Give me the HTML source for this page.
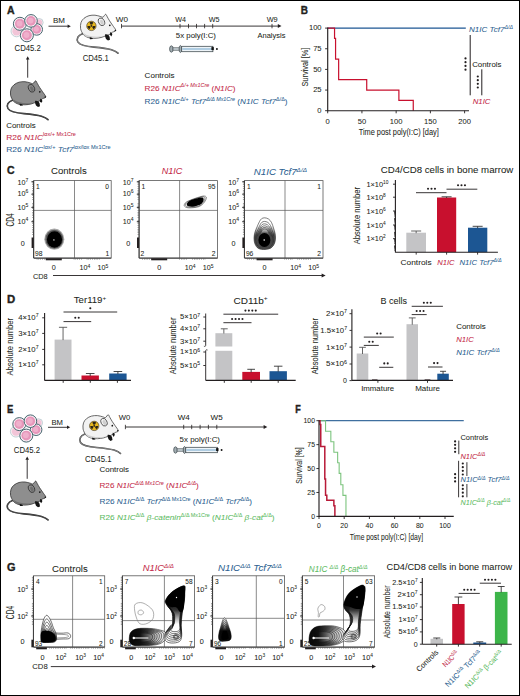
<!DOCTYPE html>
<html><head><meta charset="utf-8"><style>
html,body{margin:0;padding:0;background:#fff;}
body{width:520px;height:696px;overflow:hidden;position:relative;}
svg{position:absolute;left:0;top:0;display:block;}
svg text{font-family:"Liberation Sans", sans-serif;}
</style></head><body>
<svg width="520" height="696" viewBox="0 0 520 696">
<rect x="0" y="0" width="520" height="696" fill="#fff"/>
<text x="7" y="14.2" font-size="10" fill="#231f20" stroke="#231f20" stroke-width="0.35" font-weight="bold" textLength="7.6" lengthAdjust="spacingAndGlyphs">A</text>
<g transform="translate(0,0)">
<circle cx="39.2" cy="22.5" r="4.0" fill="#f8ebf0" stroke="#b5cbd0" stroke-width="0.8"/>
<circle cx="39.2" cy="22.5" r="2.96" fill="#f2c5d8"/>
<circle cx="16.6" cy="31.2" r="5.6" fill="#f8ebf0" stroke="#b5cbd0" stroke-width="0.8"/>
<circle cx="16.6" cy="31.2" r="4.144" fill="#f2c5d8"/>
<circle cx="36.7" cy="29.4" r="5.8" fill="#f9f3f6" stroke="#46636d" stroke-width="1.0"/>
<circle cx="36.7" cy="29.4" r="4.4079999999999995" fill="#e796ba"/>
<circle cx="36.300000000000004" cy="29.099999999999998" r="2.61" fill="#efb0cc"/>
<circle cx="19.9" cy="23.8" r="6.5" fill="#f9f3f6" stroke="#46636d" stroke-width="1.0"/>
<circle cx="19.9" cy="23.8" r="4.94" fill="#e796ba"/>
<circle cx="19.5" cy="23.5" r="2.9250000000000003" fill="#efb0cc"/>
<circle cx="31.0" cy="20.9" r="6.3" fill="#f9f3f6" stroke="#46636d" stroke-width="1.0"/>
<circle cx="31.0" cy="20.9" r="4.788" fill="#e796ba"/>
<circle cx="30.6" cy="20.599999999999998" r="2.835" fill="#efb0cc"/>
<circle cx="26.9" cy="35.3" r="6.5" fill="#f9f3f6" stroke="#46636d" stroke-width="1.0"/>
<circle cx="26.9" cy="35.3" r="4.94" fill="#e796ba"/>
<circle cx="26.5" cy="35.0" r="2.9250000000000003" fill="#efb0cc"/>
</g>
<text x="14.6" y="50.8" font-size="8.3" fill="#231f20" stroke="#231f20" stroke-width="0.05" textLength="26.2" lengthAdjust="spacingAndGlyphs">CD45.2</text>
<text x="53" y="23.2" font-size="7.2" fill="#231f20" stroke="#231f20" stroke-width="0.05" textLength="12" lengthAdjust="spacingAndGlyphs">BM</text>
<line x1="48.5" y1="26.2" x2="68.1" y2="26.2" stroke="#231f20" stroke-width="0.9" />
<path d="M70.8 26.2 L67.6 24.439999999999998 L67.6 27.96 Z" fill="#231f20" />
<g transform="translate(70,-66.5)">
<path d="M12.4 100.2 C8.2 101.8 6.0 105.2 8.0 108.6 C10.5 112 17 113 24 113.6 C31 114.2 37.5 115 41.5 116.2 C44.5 117.2 46.6 118.2 48.0 119.6" fill="none" stroke="#3a3a3a" stroke-width="1.6" stroke-linecap="round"/>
<path d="M12.4 100.2 C8.2 101.8 6.0 105.2 8.0 108.6 C10.5 112 17 113 24 113.6 C31 114.2 37.5 115 41.5 116.2 C44.5 117.2 46.6 118.2 48.0 119.6" fill="none" stroke="#cfcfcf" stroke-width="0.5" stroke-linecap="round"/>
<path d="M13.00 100.60 C12.23 99.37 10.93 97.13 10.60 95.20 C10.27 93.27 10.43 90.73 11.00 89.00 C11.57 87.27 12.67 85.93 14.00 84.80 C15.33 83.67 17.17 82.72 19.00 82.20 C20.83 81.68 23.13 81.58 25.00 81.70 C26.87 81.82 28.87 82.58 30.20 82.90 C31.53 83.22 32.10 83.95 33.00 83.60 C33.90 83.25 34.88 80.83 35.60 80.80 C36.32 80.77 36.63 82.30 37.30 83.40 C37.97 84.50 38.72 86.00 39.60 87.40 C40.48 88.80 41.60 90.33 42.60 91.80 C43.60 93.27 45.20 95.20 45.60 96.20 C46.00 97.20 45.50 97.40 45.00 97.80 C44.50 98.20 43.33 98.17 42.60 98.60 C41.87 99.03 41.37 99.90 40.60 100.40 C39.83 100.90 38.93 101.23 38.00 101.60 C37.07 101.97 36.17 102.20 35.00 102.60 C33.83 103.00 32.67 103.63 31.00 104.00 C29.33 104.37 27.00 104.75 25.00 104.80 C23.00 104.85 20.63 104.67 19.00 104.30 C17.37 103.93 16.20 103.22 15.20 102.60 C14.20 101.98 13.77 101.83 13.00 100.60 Z" fill="#f2f2f2" stroke="#3a3a3a" stroke-width="0.75" stroke-linejoin="round"/>
<path d="M13.5 99.5 C18 103 26 104 33 102.6 C29 104.6 19 105 15 102.6 Z" fill="#cfcfcf" />
<ellipse cx="31.5" cy="88.3" rx="2.9" ry="4.0" transform="rotate(-25 31.5 88.3)" fill="#f2f2f2" stroke="#3a3a3a" stroke-width="0.75"/>
<ellipse cx="31.9" cy="88.7" rx="1.6" ry="2.6" transform="rotate(-25 31.9 88.7)" fill="#cfcfcf"/>
<circle cx="39.8" cy="91.8" r="0.85" fill="#141414"/>
<circle cx="45.3" cy="96.9" r="0.75" fill="#141414"/>
<path d="M40.2 98.8 C41.4 98.6 42.4 99.6 42.2 101.2 L41.2 103.0 L40.0 101.2 Z" fill="#141414" />
<path d="M35.0 101.0 C36.8 100.4 39.0 101.4 39.6 103.6 L40.0 106.2 L38.0 107.0 L36.0 105.4 L35.2 103.2 Z" fill="#141414" />
<path d="M19.5 103.8 C21 103.6 22.4 104.4 23 105.6 L20 105.8 Z" fill="#141414" />
</g>
<circle cx="91.4" cy="25.9" r="4.7" fill="#e8b81e" stroke="#3a3020" stroke-width="0.6"/>
<path d="M90.70 24.68 L89.40 22.44 A3.995 3.995 0 0 1 93.40 22.44 L92.11 24.68 A1.41 1.41 0 0 0 90.70 24.68 Z" fill="#2a2418" />
<path d="M92.81 25.90 L95.40 25.90 A3.995 3.995 0 0 1 93.40 29.36 L92.11 27.12 A1.41 1.41 0 0 0 92.81 25.90 Z" fill="#2a2418" />
<path d="M90.70 27.12 L89.40 29.36 A3.995 3.995 0 0 1 87.41 25.90 L89.99 25.90 A1.41 1.41 0 0 0 90.70 27.12 Z" fill="#2a2418" />
<circle cx="91.4" cy="25.9" r="0.9400000000000001" fill="#2a2418"/>
<text x="82.7" y="60.6" font-size="8.3" fill="#231f20" stroke="#231f20" stroke-width="0.05" textLength="26" lengthAdjust="spacingAndGlyphs">CD45.1</text>
<line x1="27.7" y1="59.0" x2="27.7" y2="77.7" stroke="#231f20" stroke-width="0.9" />
<path d="M27.7 56.3 L25.939999999999998 59.5 L29.46 59.5 Z" fill="#231f20" />
<g transform="translate(0,0)">
<path d="M12.4 100.2 C8.2 101.8 6.0 105.2 8.0 108.6 C10.5 112 17 113 24 113.6 C31 114.2 37.5 115 41.5 116.2 C44.5 117.2 46.6 118.2 48.0 119.6" fill="none" stroke="#2a2a2a" stroke-width="1.6" stroke-linecap="round"/>
<path d="M12.4 100.2 C8.2 101.8 6.0 105.2 8.0 108.6 C10.5 112 17 113 24 113.6 C31 114.2 37.5 115 41.5 116.2 C44.5 117.2 46.6 118.2 48.0 119.6" fill="none" stroke="#6e6e6e" stroke-width="0.5" stroke-linecap="round"/>
<path d="M13.00 100.60 C12.23 99.37 10.93 97.13 10.60 95.20 C10.27 93.27 10.43 90.73 11.00 89.00 C11.57 87.27 12.67 85.93 14.00 84.80 C15.33 83.67 17.17 82.72 19.00 82.20 C20.83 81.68 23.13 81.58 25.00 81.70 C26.87 81.82 28.87 82.58 30.20 82.90 C31.53 83.22 32.10 83.95 33.00 83.60 C33.90 83.25 34.88 80.83 35.60 80.80 C36.32 80.77 36.63 82.30 37.30 83.40 C37.97 84.50 38.72 86.00 39.60 87.40 C40.48 88.80 41.60 90.33 42.60 91.80 C43.60 93.27 45.20 95.20 45.60 96.20 C46.00 97.20 45.50 97.40 45.00 97.80 C44.50 98.20 43.33 98.17 42.60 98.60 C41.87 99.03 41.37 99.90 40.60 100.40 C39.83 100.90 38.93 101.23 38.00 101.60 C37.07 101.97 36.17 102.20 35.00 102.60 C33.83 103.00 32.67 103.63 31.00 104.00 C29.33 104.37 27.00 104.75 25.00 104.80 C23.00 104.85 20.63 104.67 19.00 104.30 C17.37 103.93 16.20 103.22 15.20 102.60 C14.20 101.98 13.77 101.83 13.00 100.60 Z" fill="#8e8e8e" stroke="#2a2a2a" stroke-width="0.75" stroke-linejoin="round"/>
<path d="M13.5 99.5 C18 103 26 104 33 102.6 C29 104.6 19 105 15 102.6 Z" fill="#6e6e6e" />
<ellipse cx="31.5" cy="88.3" rx="2.9" ry="4.0" transform="rotate(-25 31.5 88.3)" fill="#8e8e8e" stroke="#2a2a2a" stroke-width="0.75"/>
<ellipse cx="31.9" cy="88.7" rx="1.6" ry="2.6" transform="rotate(-25 31.9 88.7)" fill="#6e6e6e"/>
<circle cx="39.8" cy="91.8" r="0.85" fill="#141414"/>
<circle cx="45.3" cy="96.9" r="0.75" fill="#141414"/>
<path d="M40.2 98.8 C41.4 98.6 42.4 99.6 42.2 101.2 L41.2 103.0 L40.0 101.2 Z" fill="#141414" />
<path d="M35.0 101.0 C36.8 100.4 39.0 101.4 39.6 103.6 L40.0 106.2 L38.0 107.0 L36.0 105.4 L35.2 103.2 Z" fill="#141414" />
<path d="M19.5 103.8 C21 103.6 22.4 104.4 23 105.6 L20 105.8 Z" fill="#141414" />
</g>
<line x1="121.5" y1="26.1" x2="278.5" y2="26.1" stroke="#231f20" stroke-width="0.9" />
<path d="M281.5 26.1 L277.8 24.1 L277.8 28.1 Z" fill="#231f20" />
<line x1="121.5" y1="23.9" x2="121.5" y2="28.3" stroke="#231f20" stroke-width="0.8" />
<line x1="180" y1="23.9" x2="180" y2="28.3" stroke="#231f20" stroke-width="0.8" />
<line x1="188.5" y1="23.9" x2="188.5" y2="28.3" stroke="#231f20" stroke-width="0.8" />
<line x1="196.5" y1="23.9" x2="196.5" y2="28.3" stroke="#231f20" stroke-width="0.8" />
<line x1="204.6" y1="23.9" x2="204.6" y2="28.3" stroke="#231f20" stroke-width="0.8" />
<line x1="212.7" y1="23.9" x2="212.7" y2="28.3" stroke="#231f20" stroke-width="0.8" />
<line x1="272" y1="23.9" x2="272" y2="28.3" stroke="#231f20" stroke-width="0.8" />
<text x="115.8" y="21.9" font-size="7.8" fill="#231f20" stroke="#231f20" stroke-width="0.05" textLength="12.2" lengthAdjust="spacingAndGlyphs">W0</text>
<text x="175.3" y="21.9" font-size="7.8" fill="#231f20" stroke="#231f20" stroke-width="0.05" textLength="10.7" lengthAdjust="spacingAndGlyphs">W4</text>
<text x="208.8" y="21.9" font-size="7.8" fill="#231f20" stroke="#231f20" stroke-width="0.05" textLength="10.8" lengthAdjust="spacingAndGlyphs">W5</text>
<text x="266.7" y="21.9" font-size="7.8" fill="#231f20" stroke="#231f20" stroke-width="0.05" textLength="11" lengthAdjust="spacingAndGlyphs">W9</text>
<text x="175.8" y="37.6" font-size="7.6" fill="#231f20" stroke="#231f20" stroke-width="0.05" textLength="40.2" lengthAdjust="spacingAndGlyphs">5x poly(I:C)</text>
<text x="257.5" y="37.5" font-size="7.6" fill="#231f20" stroke="#231f20" stroke-width="0.05" textLength="27.9" lengthAdjust="spacingAndGlyphs">Analysis</text>
<ellipse cx="171.4" cy="49" rx="1.8" ry="3.2" fill="#a3aeb3" stroke="#3c464b" stroke-width="0.7"/>
<rect x="173.0" y="47.8" width="6.6" height="2.4" fill="#c5cfd4" stroke="#3c464b" stroke-width="0.6"/>
<ellipse cx="180.4" cy="49" rx="1.3" ry="3.5" fill="#a3aeb3" stroke="#3c464b" stroke-width="0.7"/>
<rect x="181.7" y="46.3" width="31.200000000000006" height="5.4" fill="#eef4f8" stroke="#3c464b" stroke-width="0.75"/>
<rect x="182.2" y="48.1" width="30.200000000000006" height="1.8" fill="#a9c9df" />
<rect x="211.4" y="47.1" width="2.4" height="3.0" fill="#111" />
<circle cx="216.9" cy="49" r="0.95" fill="#111"/>
<text x="144.6" y="77.7" font-size="7.8" fill="#231f20" stroke="#231f20" stroke-width="0.05" textLength="30" lengthAdjust="spacingAndGlyphs">Controls</text>
<text x="144.6" y="90.5" font-size="8" fill="#c42a48" stroke="#c42a48" stroke-width="0.05" textLength="91" lengthAdjust="spacingAndGlyphs"><tspan dy="-0.00">R26 </tspan><tspan dy="-0.00" font-style="italic">N1IC</tspan><tspan dy="-3.04" font-size="5.28" font-style="italic">Δ/+ </tspan><tspan dy="0.00" font-size="5.28" font-style="italic">Mx1Cre</tspan><tspan dy="3.04"> (</tspan><tspan dy="-0.00" font-style="italic">N1IC</tspan><tspan dy="-0.00">)</tspan></text>
<text x="144.6" y="104" font-size="8" fill="#2d5f91" stroke="#2d5f91" stroke-width="0.05" textLength="142.9" lengthAdjust="spacingAndGlyphs"><tspan dy="-0.00">R26 </tspan><tspan dy="-0.00" font-style="italic">N1IC</tspan><tspan dy="-3.04" font-size="5.28">Δ/+</tspan><tspan dy="3.04"> </tspan><tspan dy="-0.00" font-style="italic">Tcf7</tspan><tspan dy="-3.04" font-size="5.28" font-style="italic">Δ/Δ Mx1Cre</tspan><tspan dy="3.04"> (</tspan><tspan dy="-0.00" font-style="italic">N1IC Tcf7</tspan><tspan dy="-3.04" font-size="5.28">Δ/Δ</tspan><tspan dy="3.04">)</tspan></text>
<text x="6.2" y="128" font-size="7.8" fill="#231f20" stroke="#231f20" stroke-width="0.05" textLength="29.5" lengthAdjust="spacingAndGlyphs">Controls</text>
<text x="6.2" y="139.5" font-size="8" fill="#c42a48" stroke="#c42a48" stroke-width="0.05" textLength="69.7" lengthAdjust="spacingAndGlyphs"><tspan dy="-0.00">R26 </tspan><tspan dy="-0.00" font-style="italic">N1IC</tspan><tspan dy="-3.04" font-size="5.28">lox/+ Mx1Cre</tspan></text>
<text x="6.2" y="152.2" font-size="8" fill="#2d5f91" stroke="#2d5f91" stroke-width="0.05" textLength="104.3" lengthAdjust="spacingAndGlyphs"><tspan dy="-0.00">R26 </tspan><tspan dy="-0.00" font-style="italic">N1IC</tspan><tspan dy="-3.04" font-size="5.28">lox/+</tspan><tspan dy="3.04"> </tspan><tspan dy="-0.00" font-style="italic">Tcf7</tspan><tspan dy="-3.04" font-size="5.28">lox/lox Mx1Cre</tspan></text>
<text x="300.8" y="14.4" font-size="10" fill="#231f20" stroke="#231f20" stroke-width="0.35" font-weight="bold" textLength="7.2" lengthAdjust="spacingAndGlyphs">B</text>
<line x1="327.7" y1="28.1" x2="465.8" y2="28.1" stroke="#1c5693" stroke-width="1.3" />
<path d="M327.7 28.1 L334.55 28.10 L334.55 38.43 L335.57 38.43 L335.57 59.08 L338.65 59.08 L338.65 79.72 L366.72 79.72 L366.72 90.05 L398.89 90.05 L398.89 100.38 L413.26 100.38 L413.26 110.70" fill="none" stroke="#c8102e" stroke-width="1.2" stroke-linejoin="miter"/>
<line x1="327.7" y1="27.6" x2="327.7" y2="111.2" stroke="#231f20" stroke-width="1.15" />
<line x1="325.09999999999997" y1="28.10000000000001" x2="327.7" y2="28.10000000000001" stroke="#231f20" stroke-width="0.9" />
<text x="321.6" y="30.300000000000008" font-size="7.6" fill="#231f20" stroke="#231f20" stroke-width="0.05" text-anchor="end">100</text>
<line x1="325.09999999999997" y1="48.75" x2="327.7" y2="48.75" stroke="#231f20" stroke-width="0.9" />
<text x="321.6" y="50.95" font-size="7.6" fill="#231f20" stroke="#231f20" stroke-width="0.05" text-anchor="end">75</text>
<line x1="325.09999999999997" y1="69.4" x2="327.7" y2="69.4" stroke="#231f20" stroke-width="0.9" />
<text x="321.6" y="71.60000000000001" font-size="7.6" fill="#231f20" stroke="#231f20" stroke-width="0.05" text-anchor="end">50</text>
<line x1="325.09999999999997" y1="90.05000000000001" x2="327.7" y2="90.05000000000001" stroke="#231f20" stroke-width="0.9" />
<text x="321.6" y="92.25000000000001" font-size="7.6" fill="#231f20" stroke="#231f20" stroke-width="0.05" text-anchor="end">25</text>
<line x1="325.09999999999997" y1="110.7" x2="327.7" y2="110.7" stroke="#231f20" stroke-width="0.9" />
<text x="321.6" y="112.9" font-size="7.6" fill="#231f20" stroke="#231f20" stroke-width="0.05" text-anchor="end">0</text>
<line x1="327.7" y1="110.7" x2="469" y2="110.7" stroke="#231f20" stroke-width="1.15" />
<line x1="327.7" y1="110.7" x2="327.7" y2="113.3" stroke="#231f20" stroke-width="0.9" />
<text x="327.7" y="123.6" font-size="7.6" fill="#231f20" stroke="#231f20" stroke-width="0.05" text-anchor="middle">0</text>
<line x1="361.925" y1="110.7" x2="361.925" y2="113.3" stroke="#231f20" stroke-width="0.9" />
<text x="361.925" y="123.6" font-size="7.6" fill="#231f20" stroke="#231f20" stroke-width="0.05" text-anchor="middle">50</text>
<line x1="396.15" y1="110.7" x2="396.15" y2="113.3" stroke="#231f20" stroke-width="0.9" />
<text x="396.15" y="123.6" font-size="7.6" fill="#231f20" stroke="#231f20" stroke-width="0.05" text-anchor="middle">100</text>
<line x1="430.375" y1="110.7" x2="430.375" y2="113.3" stroke="#231f20" stroke-width="0.9" />
<text x="430.375" y="123.6" font-size="7.6" fill="#231f20" stroke="#231f20" stroke-width="0.05" text-anchor="middle">150</text>
<line x1="464.6" y1="110.7" x2="464.6" y2="113.3" stroke="#231f20" stroke-width="0.9" />
<text x="464.6" y="123.6" font-size="7.6" fill="#231f20" stroke="#231f20" stroke-width="0.05" text-anchor="middle">200</text>
<text x="307.9" y="67.1" font-size="9.6" fill="#231f20" stroke="#231f20" stroke-width="0.05" text-anchor="middle" textLength="39" lengthAdjust="spacingAndGlyphs" transform="rotate(-90 307.9 67.1)">Survival [%]</text>
<text x="358.7" y="134.6" font-size="8.7" fill="#231f20" stroke="#231f20" stroke-width="0.05" textLength="80.1" lengthAdjust="spacingAndGlyphs">Time post poly(I:C) [day]</text>
<text x="469" y="32" font-size="7.6" fill="#2d5f91" stroke="#2d5f91" stroke-width="0.05" font-style="italic" textLength="44" lengthAdjust="spacingAndGlyphs"><tspan dy="-0.00">N1IC Tcf7</tspan><tspan dy="-2.89" font-size="5.02">Δ/Δ</tspan></text>
<line x1="470.2" y1="35" x2="470.2" y2="95.3" stroke="#231f20" stroke-width="1.0" />
<circle cx="465.5" cy="58.40" r="1.1" fill="#231f20"/>
<circle cx="465.5" cy="62.17" r="1.1" fill="#231f20"/>
<circle cx="465.5" cy="65.93" r="1.1" fill="#231f20"/>
<circle cx="465.5" cy="69.70" r="1.1" fill="#231f20"/>
<text x="472.2" y="67.3" font-size="7.8" fill="#231f20" stroke="#231f20" stroke-width="0.05" textLength="29.3" lengthAdjust="spacingAndGlyphs">Controls</text>
<line x1="481.8" y1="69.3" x2="481.8" y2="95.3" stroke="#231f20" stroke-width="1.0" />
<circle cx="477.8" cy="76.50" r="1.1" fill="#231f20"/>
<circle cx="477.8" cy="80.17" r="1.1" fill="#231f20"/>
<circle cx="477.8" cy="83.83" r="1.1" fill="#231f20"/>
<circle cx="477.8" cy="87.50" r="1.1" fill="#231f20"/>
<text x="472.7" y="104.2" font-size="7.8" fill="#c42a48" stroke="#c42a48" stroke-width="0.05" font-style="italic" textLength="17.8" lengthAdjust="spacingAndGlyphs">N1IC</text>
<text x="7" y="174.2" font-size="10" fill="#231f20" stroke="#231f20" stroke-width="0.35" font-weight="bold" textLength="7.6" lengthAdjust="spacingAndGlyphs">C</text>
<text x="51" y="174.4" font-size="9.2" fill="#231f20" stroke="#231f20" stroke-width="0.05" textLength="35.7" lengthAdjust="spacingAndGlyphs">Controls</text>
<text x="161.7" y="174.4" font-size="9.2" fill="#c42a48" stroke="#c42a48" stroke-width="0.05" font-style="italic" textLength="20.6" lengthAdjust="spacingAndGlyphs">N1IC</text>
<text x="253.8" y="175" font-size="9.2" fill="#2d5f91" stroke="#2d5f91" stroke-width="0.05" font-style="italic" textLength="53.2" lengthAdjust="spacingAndGlyphs"><tspan dy="-0.00">N1IC Tcf7</tspan><tspan dy="-3.50" font-size="6.07">Δ/Δ</tspan></text>
<rect x="33.8" y="180.6" width="77.4" height="77.4" fill="none" stroke="#575757" stroke-width="0.8"/>
<line x1="74.5" y1="180.6" x2="74.5" y2="258" stroke="#575757" stroke-width="0.7" />
<line x1="33.8" y1="210.4" x2="111.2" y2="210.4" stroke="#575757" stroke-width="0.7" />
<line x1="33.599999999999994" y1="180.6" x2="33.599999999999994" y2="258" stroke="#333" stroke-width="0.9" />
<line x1="33.8" y1="258.2" x2="111.2" y2="258.2" stroke="#333" stroke-width="0.9" />
<line x1="32.8" y1="181" x2="32.8" y2="200" stroke="#555" stroke-width="1.4" stroke-dasharray="0.5 1.3"/>
<line x1="32.8" y1="203" x2="32.8" y2="218" stroke="#555" stroke-width="1.4" stroke-dasharray="0.5 1.3"/>
<line x1="32.8" y1="220" x2="32.8" y2="236" stroke="#555" stroke-width="1.4" stroke-dasharray="0.5 1.3"/>
<line x1="36.8" y1="259.0" x2="47.8" y2="259.0" stroke="#555" stroke-width="1.4" stroke-dasharray="0.5 1.3"/>
<line x1="73.8" y1="259.0" x2="81.8" y2="259.0" stroke="#555" stroke-width="1.4" stroke-dasharray="0.5 1.3"/>
<line x1="86.8" y1="259.0" x2="99.8" y2="259.0" stroke="#555" stroke-width="1.4" stroke-dasharray="0.5 1.3"/>
<line x1="31.4" y1="181.8" x2="33.8" y2="181.8" stroke="#222" stroke-width="0.9" />
<line x1="31.4" y1="194.2" x2="33.8" y2="194.2" stroke="#222" stroke-width="0.9" />
<line x1="31.4" y1="207.4" x2="33.8" y2="207.4" stroke="#222" stroke-width="0.9" />
<line x1="31.4" y1="221.7" x2="33.8" y2="221.7" stroke="#222" stroke-width="0.9" />
<line x1="32.599999999999994" y1="237.5" x2="32.599999999999994" y2="248" stroke="#231f20" stroke-width="2.0" />
<line x1="45.8" y1="259.3" x2="61.8" y2="259.3" stroke="#231f20" stroke-width="2.0" />
<text x="53.8" y="270.4" font-size="7.2" fill="#231f20" stroke="#231f20" stroke-width="0.05" text-anchor="middle">0</text>
<text x="84.8" y="270.4" font-size="7.2" fill="#231f20" stroke="#231f20" stroke-width="0.05" text-anchor="middle"><tspan dy="-0.00">10</tspan><tspan dy="-2.80" font-size="5.00">4</tspan></text>
<text x="102.8" y="270.4" font-size="7.2" fill="#231f20" stroke="#231f20" stroke-width="0.05" text-anchor="middle"><tspan dy="-0.00">10</tspan><tspan dy="-2.80" font-size="5.00">5</tspan></text>
<text x="28.199999999999996" y="184.6" font-size="7.2" fill="#231f20" stroke="#231f20" stroke-width="0.05" text-anchor="end"><tspan dy="-0.00">10</tspan><tspan dy="-2.80" font-size="5.00">7</tspan></text>
<text x="28.199999999999996" y="196.1" font-size="7.2" fill="#231f20" stroke="#231f20" stroke-width="0.05" text-anchor="end"><tspan dy="-0.00">10</tspan><tspan dy="-2.80" font-size="5.00">6</tspan></text>
<text x="28.199999999999996" y="209.9" font-size="7.2" fill="#231f20" stroke="#231f20" stroke-width="0.05" text-anchor="end"><tspan dy="-0.00">10</tspan><tspan dy="-2.80" font-size="5.00">5</tspan></text>
<text x="28.199999999999996" y="224.1" font-size="7.2" fill="#231f20" stroke="#231f20" stroke-width="0.05" text-anchor="end"><tspan dy="-0.00">10</tspan><tspan dy="-2.80" font-size="5.00">4</tspan></text>
<text x="24.799999999999997" y="245.6" font-size="7.2" fill="#231f20" stroke="#231f20" stroke-width="0.05" text-anchor="end">0</text>
<text x="36.099999999999994" y="188.6" font-size="6.7" fill="#231f20" stroke="#231f20" stroke-width="0.05">1</text>
<text x="109.10000000000001" y="188.7" font-size="6.7" fill="#231f20" stroke="#231f20" stroke-width="0.05" text-anchor="end">0</text>
<text x="35.099999999999994" y="256.2" font-size="6.7" fill="#231f20" stroke="#231f20" stroke-width="0.05">98</text>
<text x="109.2" y="256.2" font-size="6.7" fill="#231f20" stroke="#231f20" stroke-width="0.05" text-anchor="end">1</text>
<rect x="139.2" y="180.6" width="78.30000000000001" height="77.4" fill="none" stroke="#575757" stroke-width="0.8"/>
<line x1="179.6" y1="180.6" x2="179.6" y2="258" stroke="#575757" stroke-width="0.7" />
<line x1="139.2" y1="210.4" x2="217.5" y2="210.4" stroke="#575757" stroke-width="0.7" />
<line x1="139.0" y1="180.6" x2="139.0" y2="258" stroke="#333" stroke-width="0.9" />
<line x1="139.2" y1="258.2" x2="217.5" y2="258.2" stroke="#333" stroke-width="0.9" />
<line x1="138.2" y1="181" x2="138.2" y2="200" stroke="#555" stroke-width="1.4" stroke-dasharray="0.5 1.3"/>
<line x1="138.2" y1="203" x2="138.2" y2="218" stroke="#555" stroke-width="1.4" stroke-dasharray="0.5 1.3"/>
<line x1="138.2" y1="220" x2="138.2" y2="236" stroke="#555" stroke-width="1.4" stroke-dasharray="0.5 1.3"/>
<line x1="142.2" y1="259.0" x2="153.2" y2="259.0" stroke="#555" stroke-width="1.4" stroke-dasharray="0.5 1.3"/>
<line x1="179.2" y1="259.0" x2="187.2" y2="259.0" stroke="#555" stroke-width="1.4" stroke-dasharray="0.5 1.3"/>
<line x1="192.2" y1="259.0" x2="205.2" y2="259.0" stroke="#555" stroke-width="1.4" stroke-dasharray="0.5 1.3"/>
<line x1="136.79999999999998" y1="181.8" x2="139.2" y2="181.8" stroke="#222" stroke-width="0.9" />
<line x1="136.79999999999998" y1="194.2" x2="139.2" y2="194.2" stroke="#222" stroke-width="0.9" />
<line x1="136.79999999999998" y1="207.4" x2="139.2" y2="207.4" stroke="#222" stroke-width="0.9" />
<line x1="136.79999999999998" y1="221.7" x2="139.2" y2="221.7" stroke="#222" stroke-width="0.9" />
<line x1="138.0" y1="237.5" x2="138.0" y2="248" stroke="#231f20" stroke-width="2.0" />
<line x1="151.2" y1="259.3" x2="167.2" y2="259.3" stroke="#231f20" stroke-width="2.0" />
<text x="159.2" y="270.4" font-size="7.2" fill="#231f20" stroke="#231f20" stroke-width="0.05" text-anchor="middle">0</text>
<text x="190.2" y="270.4" font-size="7.2" fill="#231f20" stroke="#231f20" stroke-width="0.05" text-anchor="middle"><tspan dy="-0.00">10</tspan><tspan dy="-2.80" font-size="5.00">4</tspan></text>
<text x="208.2" y="270.4" font-size="7.2" fill="#231f20" stroke="#231f20" stroke-width="0.05" text-anchor="middle"><tspan dy="-0.00">10</tspan><tspan dy="-2.80" font-size="5.00">5</tspan></text>
<text x="133.6" y="184.6" font-size="7.2" fill="#231f20" stroke="#231f20" stroke-width="0.05" text-anchor="end"><tspan dy="-0.00">10</tspan><tspan dy="-2.80" font-size="5.00">7</tspan></text>
<text x="133.6" y="196.1" font-size="7.2" fill="#231f20" stroke="#231f20" stroke-width="0.05" text-anchor="end"><tspan dy="-0.00">10</tspan><tspan dy="-2.80" font-size="5.00">6</tspan></text>
<text x="133.6" y="209.9" font-size="7.2" fill="#231f20" stroke="#231f20" stroke-width="0.05" text-anchor="end"><tspan dy="-0.00">10</tspan><tspan dy="-2.80" font-size="5.00">5</tspan></text>
<text x="133.6" y="224.1" font-size="7.2" fill="#231f20" stroke="#231f20" stroke-width="0.05" text-anchor="end"><tspan dy="-0.00">10</tspan><tspan dy="-2.80" font-size="5.00">4</tspan></text>
<text x="130.2" y="245.6" font-size="7.2" fill="#231f20" stroke="#231f20" stroke-width="0.05" text-anchor="end">0</text>
<text x="141.5" y="188.6" font-size="6.7" fill="#231f20" stroke="#231f20" stroke-width="0.05">1</text>
<text x="215.4" y="188.7" font-size="6.7" fill="#231f20" stroke="#231f20" stroke-width="0.05" text-anchor="end">95</text>
<text x="140.5" y="256.2" font-size="6.7" fill="#231f20" stroke="#231f20" stroke-width="0.05">2</text>
<text x="215.5" y="256.2" font-size="6.7" fill="#231f20" stroke="#231f20" stroke-width="0.05" text-anchor="end">2</text>
<rect x="244.6" y="180.6" width="78.4" height="77.4" fill="none" stroke="#575757" stroke-width="0.8"/>
<line x1="285" y1="180.6" x2="285" y2="258" stroke="#575757" stroke-width="0.7" />
<line x1="244.6" y1="210.4" x2="323" y2="210.4" stroke="#575757" stroke-width="0.7" />
<line x1="244.4" y1="180.6" x2="244.4" y2="258" stroke="#333" stroke-width="0.9" />
<line x1="244.6" y1="258.2" x2="323" y2="258.2" stroke="#333" stroke-width="0.9" />
<line x1="243.6" y1="181" x2="243.6" y2="200" stroke="#555" stroke-width="1.4" stroke-dasharray="0.5 1.3"/>
<line x1="243.6" y1="203" x2="243.6" y2="218" stroke="#555" stroke-width="1.4" stroke-dasharray="0.5 1.3"/>
<line x1="243.6" y1="220" x2="243.6" y2="236" stroke="#555" stroke-width="1.4" stroke-dasharray="0.5 1.3"/>
<line x1="247.6" y1="259.0" x2="258.6" y2="259.0" stroke="#555" stroke-width="1.4" stroke-dasharray="0.5 1.3"/>
<line x1="284.6" y1="259.0" x2="292.6" y2="259.0" stroke="#555" stroke-width="1.4" stroke-dasharray="0.5 1.3"/>
<line x1="297.6" y1="259.0" x2="310.6" y2="259.0" stroke="#555" stroke-width="1.4" stroke-dasharray="0.5 1.3"/>
<line x1="242.2" y1="181.8" x2="244.6" y2="181.8" stroke="#222" stroke-width="0.9" />
<line x1="242.2" y1="194.2" x2="244.6" y2="194.2" stroke="#222" stroke-width="0.9" />
<line x1="242.2" y1="207.4" x2="244.6" y2="207.4" stroke="#222" stroke-width="0.9" />
<line x1="242.2" y1="221.7" x2="244.6" y2="221.7" stroke="#222" stroke-width="0.9" />
<line x1="243.4" y1="237.5" x2="243.4" y2="248" stroke="#231f20" stroke-width="2.0" />
<line x1="256.6" y1="259.3" x2="272.6" y2="259.3" stroke="#231f20" stroke-width="2.0" />
<text x="264.6" y="270.4" font-size="7.2" fill="#231f20" stroke="#231f20" stroke-width="0.05" text-anchor="middle">0</text>
<text x="295.6" y="270.4" font-size="7.2" fill="#231f20" stroke="#231f20" stroke-width="0.05" text-anchor="middle"><tspan dy="-0.00">10</tspan><tspan dy="-2.80" font-size="5.00">4</tspan></text>
<text x="313.6" y="270.4" font-size="7.2" fill="#231f20" stroke="#231f20" stroke-width="0.05" text-anchor="middle"><tspan dy="-0.00">10</tspan><tspan dy="-2.80" font-size="5.00">5</tspan></text>
<text x="239.0" y="184.6" font-size="7.2" fill="#231f20" stroke="#231f20" stroke-width="0.05" text-anchor="end"><tspan dy="-0.00">10</tspan><tspan dy="-2.80" font-size="5.00">7</tspan></text>
<text x="239.0" y="196.1" font-size="7.2" fill="#231f20" stroke="#231f20" stroke-width="0.05" text-anchor="end"><tspan dy="-0.00">10</tspan><tspan dy="-2.80" font-size="5.00">6</tspan></text>
<text x="239.0" y="209.9" font-size="7.2" fill="#231f20" stroke="#231f20" stroke-width="0.05" text-anchor="end"><tspan dy="-0.00">10</tspan><tspan dy="-2.80" font-size="5.00">5</tspan></text>
<text x="239.0" y="224.1" font-size="7.2" fill="#231f20" stroke="#231f20" stroke-width="0.05" text-anchor="end"><tspan dy="-0.00">10</tspan><tspan dy="-2.80" font-size="5.00">4</tspan></text>
<text x="235.6" y="245.6" font-size="7.2" fill="#231f20" stroke="#231f20" stroke-width="0.05" text-anchor="end">0</text>
<text x="246.9" y="188.6" font-size="6.7" fill="#231f20" stroke="#231f20" stroke-width="0.05">1</text>
<text x="320.9" y="188.7" font-size="6.7" fill="#231f20" stroke="#231f20" stroke-width="0.05" text-anchor="end">1</text>
<text x="245.9" y="256.2" font-size="6.7" fill="#231f20" stroke="#231f20" stroke-width="0.05">96</text>
<text x="321.0" y="256.2" font-size="6.7" fill="#231f20" stroke="#231f20" stroke-width="0.05" text-anchor="end">2</text>
<text x="13.8" y="220" font-size="10" fill="#231f20" stroke="#231f20" stroke-width="0.05" text-anchor="middle" textLength="13.2" lengthAdjust="spacingAndGlyphs" transform="rotate(-90 13.8 220)">CD4</text>
<text x="33" y="278.6" font-size="7.8" fill="#231f20" stroke="#231f20" stroke-width="0.05" textLength="14.7" lengthAdjust="spacingAndGlyphs">CD8</text>
<line x1="53" y1="275.5" x2="322" y2="275.5" stroke="#231f20" stroke-width="0.9" />
<path d="M325.6 275.5 L321.6 273.5 L321.6 277.5 Z" fill="#231f20" />
<ellipse cx="54.3" cy="239.2" rx="10" ry="10.6" fill="#a8a8a8"/>
<ellipse cx="54.3" cy="239.3" rx="8.9" ry="9.5" fill="#5a5a5a"/>
<ellipse cx="54.5" cy="239.5" rx="7.6" ry="8.2" fill="#000"/>
<circle cx="53.9" cy="239.9" r="0.7" fill="#fff"/>
<path d="M184.20 205.60 C184.03 204.72 184.70 203.32 186.00 202.30 C187.30 201.28 189.75 200.38 192.00 199.50 C194.25 198.62 197.50 197.58 199.50 197.00 C201.50 196.42 202.87 195.98 204.00 196.00 C205.13 196.02 206.03 196.40 206.30 197.10 C206.57 197.80 206.15 199.08 205.60 200.20 C205.05 201.32 204.10 202.73 203.00 203.80 C201.90 204.87 200.67 205.95 199.00 206.60 C197.33 207.25 195.00 207.53 193.00 207.70 C191.00 207.87 188.47 207.95 187.00 207.60 C185.53 207.25 184.37 206.48 184.20 205.60 Z" fill="none" stroke="#2a2a2a" stroke-width="0.55" />
<path d="M185.50 205.17 C185.35 204.39 185.94 203.16 187.08 202.26 C188.22 201.37 190.38 200.58 192.36 199.80 C194.34 199.02 197.20 198.11 198.96 197.60 C200.72 197.09 201.92 196.71 202.92 196.72 C203.92 196.73 204.71 197.07 204.94 197.69 C205.18 198.30 204.81 199.43 204.33 200.42 C203.84 201.40 203.01 202.65 202.04 203.58 C201.07 204.52 199.99 205.48 198.52 206.05 C197.05 206.62 195.00 206.87 193.24 207.02 C191.48 207.16 189.25 207.24 187.96 206.93 C186.67 206.62 185.64 205.95 185.50 205.17 Z" fill="none" stroke="#2a2a2a" stroke-width="0.55" />
<path d="M186.80 204.00 C187.03 203.08 188.27 201.70 189.80 200.80 C191.33 199.90 193.92 199.13 196.00 198.60 C198.08 198.07 201.03 197.33 202.30 197.60 C203.57 197.87 203.85 199.08 203.60 200.20 C203.35 201.32 202.32 203.27 200.80 204.30 C199.28 205.33 196.57 206.07 194.50 206.40 C192.43 206.73 189.68 206.70 188.40 206.30 C187.12 205.90 186.57 204.92 186.80 204.00 Z" fill="#000" />
<defs><linearGradient id="gc3" gradientUnits="userSpaceOnUse" x1="0" y1="218" x2="0" y2="235"><stop offset="0" stop-color="#fff"/><stop offset="0.45" stop-color="#fff"/><stop offset="1" stop-color="#555"/></linearGradient></defs>
<path d="M264.50 217.80 C265.67 217.83 267.33 218.22 268.50 219.00 C269.67 219.78 270.67 221.00 271.50 222.50 C272.33 224.00 272.92 226.25 273.50 228.00 C274.08 229.75 274.67 231.33 275.00 233.00 C275.33 234.67 275.58 236.25 275.50 238.00 C275.42 239.75 275.25 241.83 274.50 243.50 C273.75 245.17 272.58 247.00 271.00 248.00 C269.42 249.00 267.08 249.42 265.00 249.50 C262.92 249.58 260.17 249.42 258.50 248.50 C256.83 247.58 255.75 245.75 255.00 244.00 C254.25 242.25 254.00 240.00 254.00 238.00 C254.00 236.00 254.50 233.83 255.00 232.00 C255.50 230.17 256.25 228.75 257.00 227.00 C257.75 225.25 258.75 222.87 259.50 221.50 C260.25 220.13 260.67 219.42 261.50 218.80 C262.33 218.18 263.33 217.77 264.50 217.80 Z" fill="url(#gc3)" />
<path d="M264.50 217.80 C265.67 217.83 267.33 218.22 268.50 219.00 C269.67 219.78 270.67 221.00 271.50 222.50 C272.33 224.00 272.92 226.25 273.50 228.00 C274.08 229.75 274.67 231.33 275.00 233.00 C275.33 234.67 275.58 236.25 275.50 238.00 C275.42 239.75 275.25 241.83 274.50 243.50 C273.75 245.17 272.58 247.00 271.00 248.00 C269.42 249.00 267.08 249.42 265.00 249.50 C262.92 249.58 260.17 249.42 258.50 248.50 C256.83 247.58 255.75 245.75 255.00 244.00 C254.25 242.25 254.00 240.00 254.00 238.00 C254.00 236.00 254.50 233.83 255.00 232.00 C255.50 230.17 256.25 228.75 257.00 227.00 C257.75 225.25 258.75 222.87 259.50 221.50 C260.25 220.13 260.67 219.42 261.50 218.80 C262.33 218.18 263.33 217.77 264.50 217.80 Z" fill="none" stroke="#1a1a1a" stroke-width="0.55" />
<path d="M264.47 221.43 C265.46 221.46 266.88 221.78 267.87 222.45 C268.86 223.12 269.71 224.15 270.42 225.43 C271.13 226.70 271.62 228.61 272.12 230.10 C272.62 231.59 273.11 232.93 273.39 234.35 C273.68 235.77 273.89 237.11 273.82 238.60 C273.75 240.09 273.61 241.86 272.97 243.28 C272.33 244.69 271.34 246.25 270.00 247.10 C268.65 247.95 266.67 248.30 264.89 248.38 C263.12 248.45 260.79 248.30 259.37 247.53 C257.95 246.75 257.03 245.19 256.39 243.70 C255.76 242.21 255.55 240.30 255.55 238.60 C255.55 236.90 255.97 235.06 256.39 233.50 C256.82 231.94 257.46 230.74 258.10 229.25 C258.73 227.76 259.58 225.74 260.22 224.57 C260.86 223.41 261.21 222.80 261.92 222.28 C262.63 221.76 263.48 221.40 264.47 221.43 Z" fill="none" stroke="#1a1a1a" stroke-width="0.55" />
<path d="M264.45 223.85 C265.32 223.88 266.57 224.16 267.45 224.75 C268.32 225.34 269.07 226.25 269.70 227.38 C270.32 228.50 270.76 230.19 271.20 231.50 C271.64 232.81 272.07 234.00 272.32 235.25 C272.57 236.50 272.76 237.69 272.70 239.00 C272.64 240.31 272.51 241.88 271.95 243.12 C271.39 244.38 270.51 245.75 269.32 246.50 C268.14 247.25 266.39 247.56 264.82 247.62 C263.26 247.69 261.20 247.56 259.95 246.88 C258.70 246.19 257.89 244.81 257.32 243.50 C256.76 242.19 256.57 240.50 256.57 239.00 C256.57 237.50 256.95 235.88 257.32 234.50 C257.70 233.12 258.26 232.06 258.82 230.75 C259.39 229.44 260.14 227.65 260.70 226.62 C261.26 225.60 261.57 225.06 262.20 224.60 C262.82 224.14 263.57 223.83 264.45 223.85 Z" fill="none" stroke="#1a1a1a" stroke-width="0.55" />
<path d="M264.43 225.79 C265.22 225.81 266.33 226.07 267.11 226.59 C267.90 227.11 268.57 227.93 269.12 228.94 C269.68 229.94 270.07 231.45 270.46 232.62 C270.85 233.79 271.25 234.85 271.47 235.97 C271.69 237.09 271.86 238.15 271.80 239.32 C271.75 240.49 271.64 241.89 271.13 243.00 C270.63 244.12 269.85 245.35 268.79 246.02 C267.73 246.69 266.16 246.97 264.77 247.03 C263.37 247.08 261.53 246.97 260.41 246.35 C259.30 245.74 258.57 244.51 258.07 243.34 C257.57 242.17 257.40 240.66 257.40 239.32 C257.40 237.98 257.73 236.53 258.07 235.30 C258.40 234.07 258.91 233.12 259.41 231.95 C259.91 230.78 260.58 229.18 261.08 228.26 C261.59 227.35 261.87 226.87 262.42 226.46 C262.98 226.04 263.65 225.76 264.43 225.79 Z" fill="none" stroke="#1a1a1a" stroke-width="0.55" />
<path d="M264.42 227.48 C265.12 227.50 266.12 227.73 266.82 228.20 C267.52 228.67 268.12 229.40 268.62 230.30 C269.12 231.20 269.47 232.55 269.82 233.60 C270.17 234.65 270.52 235.60 270.72 236.60 C270.92 237.60 271.07 238.55 271.02 239.60 C270.97 240.65 270.87 241.90 270.42 242.90 C269.97 243.90 269.27 245.00 268.32 245.60 C267.37 246.20 265.97 246.45 264.72 246.50 C263.47 246.55 261.82 246.45 260.82 245.90 C259.82 245.35 259.17 244.25 258.72 243.20 C258.27 242.15 258.12 240.80 258.12 239.60 C258.12 238.40 258.42 237.10 258.72 236.00 C259.02 234.90 259.47 234.05 259.92 233.00 C260.37 231.95 260.97 230.52 261.42 229.70 C261.87 228.88 262.12 228.45 262.62 228.08 C263.12 227.71 263.72 227.46 264.42 227.48 Z" fill="none" stroke="#1a1a1a" stroke-width="0.55" />
<path d="M264.41 228.93 C265.04 228.95 265.94 229.16 266.57 229.58 C267.20 230.00 267.74 230.66 268.19 231.47 C268.64 232.28 268.95 233.50 269.27 234.44 C269.58 235.38 269.90 236.24 270.08 237.14 C270.26 238.04 270.39 238.90 270.35 239.84 C270.30 240.78 270.21 241.91 269.81 242.81 C269.40 243.71 268.77 244.70 267.92 245.24 C267.06 245.78 265.80 246.01 264.68 246.05 C263.55 246.09 262.07 246.00 261.17 245.51 C260.27 245.01 259.68 244.03 259.28 243.08 C258.87 242.14 258.74 240.92 258.74 239.84 C258.74 238.76 259.01 237.59 259.28 236.60 C259.55 235.61 259.95 234.84 260.36 233.90 C260.76 232.96 261.30 231.67 261.71 230.93 C262.11 230.19 262.34 229.81 262.79 229.47 C263.24 229.14 263.78 228.91 264.41 228.93 Z" fill="none" stroke="#1a1a1a" stroke-width="0.55" />
<ellipse cx="264.5" cy="240.3" rx="8.2" ry="8.6" fill="#555" opacity="0.55"/>
<ellipse cx="264.4" cy="240.0" rx="6.0" ry="7.0" fill="#000"/>
<circle cx="264.2" cy="240" r="0.8" fill="#fff"/>
<text x="380.7" y="172.5" font-size="8.6" fill="#231f20" stroke="#231f20" stroke-width="0.05" textLength="132.6" lengthAdjust="spacingAndGlyphs">CD4/CD8 cells in bone marrow</text>
<line x1="395.4" y1="180" x2="395.4" y2="252.4" stroke="#231f20" stroke-width="1.1" />
<line x1="393.0" y1="184.2" x2="395.4" y2="184.2" stroke="#231f20" stroke-width="0.9" />
<line x1="393.0" y1="197.2" x2="395.4" y2="197.2" stroke="#231f20" stroke-width="0.9" />
<line x1="393.0" y1="211.0" x2="395.4" y2="211.0" stroke="#231f20" stroke-width="0.9" />
<line x1="393.0" y1="225.0" x2="395.4" y2="225.0" stroke="#231f20" stroke-width="0.9" />
<line x1="393.0" y1="238.7" x2="395.4" y2="238.7" stroke="#231f20" stroke-width="0.9" />
<text x="366.4" y="186.89999999999998" font-size="7.4" fill="#231f20" stroke="#231f20" stroke-width="0.05"><tspan dy="-0.00">1×10</tspan><tspan dy="-3.20" font-size="4.80">10</tspan></text>
<text x="366.4" y="199.89999999999998" font-size="7.4" fill="#231f20" stroke="#231f20" stroke-width="0.05"><tspan dy="-0.00">1×10</tspan><tspan dy="-3.20" font-size="4.80">8</tspan></text>
<text x="366.4" y="213.7" font-size="7.4" fill="#231f20" stroke="#231f20" stroke-width="0.05"><tspan dy="-0.00">1×10</tspan><tspan dy="-3.20" font-size="4.80">6</tspan></text>
<text x="366.4" y="227.7" font-size="7.4" fill="#231f20" stroke="#231f20" stroke-width="0.05"><tspan dy="-0.00">1×10</tspan><tspan dy="-3.20" font-size="4.80">4</tspan></text>
<text x="366.4" y="241.39999999999998" font-size="7.4" fill="#231f20" stroke="#231f20" stroke-width="0.05"><tspan dy="-0.00">1×10</tspan><tspan dy="-3.20" font-size="4.80">2</tspan></text>
<line x1="394.0" y1="250.34" x2="395.4" y2="250.34" stroke="#231f20" stroke-width="0.5" />
<line x1="394.0" y1="249.13" x2="395.4" y2="249.13" stroke="#231f20" stroke-width="0.5" />
<line x1="394.0" y1="248.28" x2="395.4" y2="248.28" stroke="#231f20" stroke-width="0.5" />
<line x1="394.0" y1="247.61" x2="395.4" y2="247.61" stroke="#231f20" stroke-width="0.5" />
<line x1="394.0" y1="247.07" x2="395.4" y2="247.07" stroke="#231f20" stroke-width="0.5" />
<line x1="394.0" y1="246.61" x2="395.4" y2="246.61" stroke="#231f20" stroke-width="0.5" />
<line x1="394.0" y1="246.21" x2="395.4" y2="246.21" stroke="#231f20" stroke-width="0.5" />
<line x1="394.0" y1="245.86" x2="395.4" y2="245.86" stroke="#231f20" stroke-width="0.5" />
<line x1="394.0" y1="243.49" x2="395.4" y2="243.49" stroke="#231f20" stroke-width="0.5" />
<line x1="394.0" y1="242.28" x2="395.4" y2="242.28" stroke="#231f20" stroke-width="0.5" />
<line x1="394.0" y1="241.43" x2="395.4" y2="241.43" stroke="#231f20" stroke-width="0.5" />
<line x1="394.0" y1="240.76" x2="395.4" y2="240.76" stroke="#231f20" stroke-width="0.5" />
<line x1="394.0" y1="240.22" x2="395.4" y2="240.22" stroke="#231f20" stroke-width="0.5" />
<line x1="394.0" y1="239.76" x2="395.4" y2="239.76" stroke="#231f20" stroke-width="0.5" />
<line x1="394.0" y1="239.36" x2="395.4" y2="239.36" stroke="#231f20" stroke-width="0.5" />
<line x1="394.0" y1="239.01" x2="395.4" y2="239.01" stroke="#231f20" stroke-width="0.5" />
<line x1="394.0" y1="236.64" x2="395.4" y2="236.64" stroke="#231f20" stroke-width="0.5" />
<line x1="394.0" y1="235.43" x2="395.4" y2="235.43" stroke="#231f20" stroke-width="0.5" />
<line x1="394.0" y1="234.58" x2="395.4" y2="234.58" stroke="#231f20" stroke-width="0.5" />
<line x1="394.0" y1="233.91" x2="395.4" y2="233.91" stroke="#231f20" stroke-width="0.5" />
<line x1="394.0" y1="233.37" x2="395.4" y2="233.37" stroke="#231f20" stroke-width="0.5" />
<line x1="394.0" y1="232.91" x2="395.4" y2="232.91" stroke="#231f20" stroke-width="0.5" />
<line x1="394.0" y1="232.51" x2="395.4" y2="232.51" stroke="#231f20" stroke-width="0.5" />
<line x1="394.0" y1="232.16" x2="395.4" y2="232.16" stroke="#231f20" stroke-width="0.5" />
<line x1="394.0" y1="229.79" x2="395.4" y2="229.79" stroke="#231f20" stroke-width="0.5" />
<line x1="394.0" y1="228.58" x2="395.4" y2="228.58" stroke="#231f20" stroke-width="0.5" />
<line x1="394.0" y1="227.73" x2="395.4" y2="227.73" stroke="#231f20" stroke-width="0.5" />
<line x1="394.0" y1="227.06" x2="395.4" y2="227.06" stroke="#231f20" stroke-width="0.5" />
<line x1="394.0" y1="226.52" x2="395.4" y2="226.52" stroke="#231f20" stroke-width="0.5" />
<line x1="394.0" y1="226.06" x2="395.4" y2="226.06" stroke="#231f20" stroke-width="0.5" />
<line x1="394.0" y1="225.66" x2="395.4" y2="225.66" stroke="#231f20" stroke-width="0.5" />
<line x1="394.0" y1="225.31" x2="395.4" y2="225.31" stroke="#231f20" stroke-width="0.5" />
<line x1="394.0" y1="222.94" x2="395.4" y2="222.94" stroke="#231f20" stroke-width="0.5" />
<line x1="394.0" y1="221.73" x2="395.4" y2="221.73" stroke="#231f20" stroke-width="0.5" />
<line x1="394.0" y1="220.88" x2="395.4" y2="220.88" stroke="#231f20" stroke-width="0.5" />
<line x1="394.0" y1="220.21" x2="395.4" y2="220.21" stroke="#231f20" stroke-width="0.5" />
<line x1="394.0" y1="219.67" x2="395.4" y2="219.67" stroke="#231f20" stroke-width="0.5" />
<line x1="394.0" y1="219.21" x2="395.4" y2="219.21" stroke="#231f20" stroke-width="0.5" />
<line x1="394.0" y1="218.81" x2="395.4" y2="218.81" stroke="#231f20" stroke-width="0.5" />
<line x1="394.0" y1="218.46" x2="395.4" y2="218.46" stroke="#231f20" stroke-width="0.5" />
<line x1="394.0" y1="216.09" x2="395.4" y2="216.09" stroke="#231f20" stroke-width="0.5" />
<line x1="394.0" y1="214.88" x2="395.4" y2="214.88" stroke="#231f20" stroke-width="0.5" />
<line x1="394.0" y1="214.03" x2="395.4" y2="214.03" stroke="#231f20" stroke-width="0.5" />
<line x1="394.0" y1="213.36" x2="395.4" y2="213.36" stroke="#231f20" stroke-width="0.5" />
<line x1="394.0" y1="212.82" x2="395.4" y2="212.82" stroke="#231f20" stroke-width="0.5" />
<line x1="394.0" y1="212.36" x2="395.4" y2="212.36" stroke="#231f20" stroke-width="0.5" />
<line x1="394.0" y1="211.96" x2="395.4" y2="211.96" stroke="#231f20" stroke-width="0.5" />
<line x1="394.0" y1="211.61" x2="395.4" y2="211.61" stroke="#231f20" stroke-width="0.5" />
<text x="360" y="215.7" font-size="9.4" fill="#231f20" stroke="#231f20" stroke-width="0.05" text-anchor="middle" textLength="57.3" lengthAdjust="spacingAndGlyphs" transform="rotate(-90 360 215.7)">Absolute number</text>
<rect x="406.3" y="232.7" width="19.69999999999999" height="19.5" fill="#c4c4c6" />
<line x1="416.15" y1="231.0" x2="416.15" y2="233.2" stroke="#555" stroke-width="0.9" />
<line x1="411.15" y1="231.0" x2="421.15" y2="231.0" stroke="#555" stroke-width="0.9" />
<rect x="437" y="197.5" width="19.19999999999999" height="54.69999999999999" fill="#c8102e" />
<line x1="446.6" y1="196.8" x2="446.6" y2="198.0" stroke="#333" stroke-width="0.9" />
<line x1="441.6" y1="196.8" x2="451.6" y2="196.8" stroke="#333" stroke-width="0.9" />
<rect x="468" y="227.7" width="19.30000000000001" height="24.5" fill="#1c5693" />
<line x1="477.65" y1="226.3" x2="477.65" y2="228.2" stroke="#333" stroke-width="0.9" />
<line x1="472.65" y1="226.3" x2="482.65" y2="226.3" stroke="#333" stroke-width="0.9" />
<line x1="395.4" y1="252.2" x2="497.9" y2="252.2" stroke="#231f20" stroke-width="1.1" />
<line x1="416.2" y1="252.2" x2="416.2" y2="254.6" stroke="#231f20" stroke-width="0.9" />
<line x1="446.6" y1="252.2" x2="446.6" y2="254.6" stroke="#231f20" stroke-width="0.9" />
<line x1="477.6" y1="252.2" x2="477.6" y2="254.6" stroke="#231f20" stroke-width="0.9" />
<line x1="416" y1="192.7" x2="446.5" y2="192.7" stroke="#231f20" stroke-width="0.9" />
<circle cx="428.05" cy="188.8" r="1.05" fill="#231f20"/>
<circle cx="431.50" cy="188.8" r="1.05" fill="#231f20"/>
<circle cx="434.95" cy="188.8" r="1.05" fill="#231f20"/>
<line x1="446.5" y1="189.2" x2="477.3" y2="189.2" stroke="#231f20" stroke-width="0.9" />
<circle cx="458.05" cy="185.3" r="1.05" fill="#231f20"/>
<circle cx="461.50" cy="185.3" r="1.05" fill="#231f20"/>
<circle cx="464.95" cy="185.3" r="1.05" fill="#231f20"/>
<text x="400.6" y="264.8" font-size="8" fill="#231f20" stroke="#231f20" stroke-width="0.05" textLength="31" lengthAdjust="spacingAndGlyphs">Controls</text>
<text x="437.3" y="264.8" font-size="8" fill="#c42a48" stroke="#c42a48" stroke-width="0.05" font-style="italic" textLength="17.3" lengthAdjust="spacingAndGlyphs">N1IC</text>
<text x="459.4" y="264.8" font-size="8" fill="#2d5f91" stroke="#2d5f91" stroke-width="0.05" font-style="italic" textLength="42.3" lengthAdjust="spacingAndGlyphs"><tspan dy="-0.00">N1IC Tcf7</tspan><tspan dy="-3.04" font-size="5.28">Δ/Δ</tspan></text>
<text x="6.9" y="303" font-size="10" fill="#231f20" stroke="#231f20" stroke-width="0.35" font-weight="bold" textLength="8.2" lengthAdjust="spacingAndGlyphs">D</text>
<text x="73.8" y="303.2" font-size="8.2" fill="#231f20" stroke="#231f20" stroke-width="0.05" textLength="32.4" lengthAdjust="spacingAndGlyphs"><tspan dy="-0.00">Ter119</tspan><tspan dy="-3.12" font-size="5.41">+</tspan></text>
<line x1="44.6" y1="313" x2="44.6" y2="380.4" stroke="#231f20" stroke-width="1.1" />
<line x1="42.2" y1="317.8" x2="44.6" y2="317.8" stroke="#231f20" stroke-width="0.9" />
<line x1="42.2" y1="333.4" x2="44.6" y2="333.4" stroke="#231f20" stroke-width="0.9" />
<line x1="42.2" y1="349.4" x2="44.6" y2="349.4" stroke="#231f20" stroke-width="0.9" />
<line x1="42.2" y1="364.8" x2="44.6" y2="364.8" stroke="#231f20" stroke-width="0.9" />
<text x="38.5" y="320.2" font-size="7.0" fill="#231f20" stroke="#231f20" stroke-width="0.05" text-anchor="end" textLength="20.3" lengthAdjust="spacingAndGlyphs"><tspan dy="-0.00">4×10</tspan><tspan dy="-2.90" font-size="4.60">7</tspan></text>
<text x="38.5" y="335.79999999999995" font-size="7.0" fill="#231f20" stroke="#231f20" stroke-width="0.05" text-anchor="end" textLength="20.3" lengthAdjust="spacingAndGlyphs"><tspan dy="-0.00">3×10</tspan><tspan dy="-2.90" font-size="4.60">7</tspan></text>
<text x="38.5" y="351.79999999999995" font-size="7.0" fill="#231f20" stroke="#231f20" stroke-width="0.05" text-anchor="end" textLength="20.3" lengthAdjust="spacingAndGlyphs"><tspan dy="-0.00">2×10</tspan><tspan dy="-2.90" font-size="4.60">7</tspan></text>
<text x="38.5" y="367.2" font-size="7.0" fill="#231f20" stroke="#231f20" stroke-width="0.05" text-anchor="end" textLength="20.3" lengthAdjust="spacingAndGlyphs"><tspan dy="-0.00">1×10</tspan><tspan dy="-2.90" font-size="4.60">7</tspan></text>
<text x="13.2" y="346.8" font-size="9.4" fill="#231f20" stroke="#231f20" stroke-width="0.05" text-anchor="middle" textLength="57.6" lengthAdjust="spacingAndGlyphs" transform="rotate(-90 13.2 346.8)">Absolute number</text>
<rect x="54.6" y="339.6" width="16.9" height="40.799999999999955" fill="#c4c4c6" />
<line x1="63.05" y1="327.3" x2="63.05" y2="340.1" stroke="#555" stroke-width="0.9" />
<line x1="58.949999999999996" y1="327.3" x2="67.14999999999999" y2="327.3" stroke="#555" stroke-width="0.9" />
<rect x="81.5" y="375.5" width="17.400000000000006" height="4.899999999999977" fill="#c8102e" />
<line x1="90.2" y1="373.5" x2="90.2" y2="376.0" stroke="#333" stroke-width="0.9" />
<line x1="85.9" y1="373.5" x2="94.5" y2="373.5" stroke="#333" stroke-width="0.9" />
<rect x="109.2" y="373.5" width="17.39999999999999" height="6.899999999999977" fill="#1c5693" />
<line x1="117.9" y1="371.5" x2="117.9" y2="374.0" stroke="#333" stroke-width="0.9" />
<line x1="113.60000000000001" y1="371.5" x2="122.2" y2="371.5" stroke="#333" stroke-width="0.9" />
<line x1="44.6" y1="380.4" x2="131" y2="380.4" stroke="#231f20" stroke-width="1.1" />
<line x1="63.2" y1="380.4" x2="63.2" y2="382.79999999999995" stroke="#231f20" stroke-width="0.9" />
<line x1="90.3" y1="380.4" x2="90.3" y2="382.79999999999995" stroke="#231f20" stroke-width="0.9" />
<line x1="117.4" y1="380.4" x2="117.4" y2="382.79999999999995" stroke="#231f20" stroke-width="0.9" />
<line x1="63.5" y1="312" x2="117.2" y2="312" stroke="#231f20" stroke-width="0.9" />
<circle cx="90.30" cy="308.2" r="1.05" fill="#231f20"/>
<line x1="63.5" y1="321.6" x2="91.2" y2="321.6" stroke="#231f20" stroke-width="0.9" />
<circle cx="75.28" cy="317.8" r="1.05" fill="#231f20"/>
<circle cx="78.73" cy="317.8" r="1.05" fill="#231f20"/>
<text x="233.5" y="303.5" font-size="8.2" fill="#231f20" stroke="#231f20" stroke-width="0.05" textLength="34.2" lengthAdjust="spacingAndGlyphs"><tspan dy="-0.00">CD11b</tspan><tspan dy="-3.12" font-size="5.41">+</tspan></text>
<line x1="205.7" y1="313.5" x2="205.7" y2="345.4" stroke="#231f20" stroke-width="0.9" />
<line x1="205.7" y1="350.8" x2="205.7" y2="380.4" stroke="#231f20" stroke-width="0.9" />
<path d="M205.7 345.4 C205.7 346.5 204.7 346.6 203.9 346.2" fill="none" stroke="#231f20" stroke-width="0.8" />
<path d="M205.7 350.8 C205.7 349.7 206.7 349.6 207.5 350" fill="none" stroke="#231f20" stroke-width="0.8" />
<line x1="203.3" y1="317" x2="205.7" y2="317" stroke="#231f20" stroke-width="0.9" />
<line x1="203.3" y1="328.8" x2="205.7" y2="328.8" stroke="#231f20" stroke-width="0.9" />
<line x1="203.3" y1="341.2" x2="205.7" y2="341.2" stroke="#231f20" stroke-width="0.9" />
<line x1="203.3" y1="352" x2="205.7" y2="352" stroke="#231f20" stroke-width="0.9" />
<line x1="203.3" y1="365.5" x2="205.7" y2="365.5" stroke="#231f20" stroke-width="0.9" />
<text x="200.0" y="319.4" font-size="7.0" fill="#231f20" stroke="#231f20" stroke-width="0.05" text-anchor="end" textLength="20" lengthAdjust="spacingAndGlyphs"><tspan dy="-0.00">5×10</tspan><tspan dy="-2.90" font-size="4.60">7</tspan></text>
<text x="200.0" y="331.2" font-size="7.0" fill="#231f20" stroke="#231f20" stroke-width="0.05" text-anchor="end" textLength="20" lengthAdjust="spacingAndGlyphs"><tspan dy="-0.00">4×10</tspan><tspan dy="-2.90" font-size="4.60">7</tspan></text>
<text x="200.0" y="343.59999999999997" font-size="7.0" fill="#231f20" stroke="#231f20" stroke-width="0.05" text-anchor="end" textLength="20" lengthAdjust="spacingAndGlyphs"><tspan dy="-0.00">3×10</tspan><tspan dy="-2.90" font-size="4.60">7</tspan></text>
<text x="200.0" y="354.4" font-size="7.0" fill="#231f20" stroke="#231f20" stroke-width="0.05" text-anchor="end" textLength="20" lengthAdjust="spacingAndGlyphs"><tspan dy="-0.00">1×10</tspan><tspan dy="-2.90" font-size="4.60">6</tspan></text>
<text x="200.0" y="367.9" font-size="7.0" fill="#231f20" stroke="#231f20" stroke-width="0.05" text-anchor="end" textLength="20" lengthAdjust="spacingAndGlyphs"><tspan dy="-0.00">5×10</tspan><tspan dy="-2.90" font-size="4.60">5</tspan></text>
<text x="175.6" y="345.9" font-size="9.4" fill="#231f20" stroke="#231f20" stroke-width="0.05" text-anchor="middle" textLength="56.8" lengthAdjust="spacingAndGlyphs" transform="rotate(-90 175.6 345.9)">Absolute number</text>
<rect x="215.4" y="333.2" width="16.9" height="13.3" fill="#c4c4c6" />
<rect x="215.4" y="350.8" width="16.9" height="29.6" fill="#c4c4c6" />
<line x1="223.85" y1="328.8" x2="223.85" y2="333.5" stroke="#555" stroke-width="0.9" />
<line x1="220.8" y1="328.8" x2="227.7" y2="328.8" stroke="#555" stroke-width="0.9" />
<rect x="242.3" y="371.9" width="17.69999999999999" height="8.5" fill="#c8102e" />
<line x1="251.15" y1="369.3" x2="251.15" y2="372.4" stroke="#333" stroke-width="0.9" />
<line x1="247.3" y1="369.3" x2="255.0" y2="369.3" stroke="#333" stroke-width="0.9" />
<rect x="269.5" y="371.2" width="17.399999999999977" height="9.199999999999989" fill="#1c5693" />
<line x1="278.2" y1="366.2" x2="278.2" y2="371.7" stroke="#333" stroke-width="0.9" />
<line x1="273.95" y1="366.2" x2="282.45" y2="366.2" stroke="#333" stroke-width="0.9" />
<line x1="205.7" y1="380.4" x2="295.7" y2="380.4" stroke="#231f20" stroke-width="1.1" />
<line x1="224.3" y1="380.4" x2="224.3" y2="382.79999999999995" stroke="#231f20" stroke-width="0.9" />
<line x1="251.2" y1="380.4" x2="251.2" y2="382.79999999999995" stroke="#231f20" stroke-width="0.9" />
<line x1="278.2" y1="380.4" x2="278.2" y2="382.79999999999995" stroke="#231f20" stroke-width="0.9" />
<line x1="223.4" y1="314.2" x2="278.2" y2="314.2" stroke="#231f20" stroke-width="0.9" />
<circle cx="245.42" cy="310.6" r="1.05" fill="#231f20"/>
<circle cx="248.87" cy="310.6" r="1.05" fill="#231f20"/>
<circle cx="252.32" cy="310.6" r="1.05" fill="#231f20"/>
<circle cx="255.77" cy="310.6" r="1.05" fill="#231f20"/>
<line x1="223.4" y1="322.7" x2="251.5" y2="322.7" stroke="#231f20" stroke-width="0.9" />
<circle cx="232.12" cy="319.0" r="1.05" fill="#231f20"/>
<circle cx="235.57" cy="319.0" r="1.05" fill="#231f20"/>
<circle cx="239.03" cy="319.0" r="1.05" fill="#231f20"/>
<circle cx="242.47" cy="319.0" r="1.05" fill="#231f20"/>
<text x="380.4" y="303.8" font-size="8.2" fill="#231f20" stroke="#231f20" stroke-width="0.05" textLength="26.6" lengthAdjust="spacingAndGlyphs">B cells</text>
<line x1="351.9" y1="309.2" x2="351.9" y2="380.6" stroke="#231f20" stroke-width="1.1" />
<line x1="349.5" y1="313.7" x2="351.9" y2="313.7" stroke="#231f20" stroke-width="0.9" />
<line x1="349.5" y1="330.4" x2="351.9" y2="330.4" stroke="#231f20" stroke-width="0.9" />
<line x1="349.5" y1="347.1" x2="351.9" y2="347.1" stroke="#231f20" stroke-width="0.9" />
<line x1="349.5" y1="364" x2="351.9" y2="364" stroke="#231f20" stroke-width="0.9" />
<line x1="349.5" y1="380.6" x2="351.9" y2="380.6" stroke="#231f20" stroke-width="0.9" />
<text x="347.0" y="316.09999999999997" font-size="7.0" fill="#231f20" stroke="#231f20" stroke-width="0.05" text-anchor="end" textLength="21" lengthAdjust="spacingAndGlyphs"><tspan dy="-0.00">2×10</tspan><tspan dy="-2.90" font-size="4.60">7</tspan></text>
<text x="347.0" y="332.79999999999995" font-size="7.0" fill="#231f20" stroke="#231f20" stroke-width="0.05" text-anchor="end" textLength="26.8" lengthAdjust="spacingAndGlyphs"><tspan dy="-0.00">1.5×10</tspan><tspan dy="-2.90" font-size="4.60">7</tspan></text>
<text x="347.0" y="349.5" font-size="7.0" fill="#231f20" stroke="#231f20" stroke-width="0.05" text-anchor="end" textLength="21" lengthAdjust="spacingAndGlyphs"><tspan dy="-0.00">1×10</tspan><tspan dy="-2.90" font-size="4.60">7</tspan></text>
<text x="347.0" y="366.4" font-size="7.0" fill="#231f20" stroke="#231f20" stroke-width="0.05" text-anchor="end" textLength="21" lengthAdjust="spacingAndGlyphs"><tspan dy="-0.00">5×10</tspan><tspan dy="-2.90" font-size="4.60">6</tspan></text>
<text x="347.0" y="383.0" font-size="7.0" fill="#231f20" stroke="#231f20" stroke-width="0.05" text-anchor="end">0</text>
<text x="317.6" y="346.2" font-size="9.4" fill="#231f20" stroke="#231f20" stroke-width="0.05" text-anchor="middle" textLength="56.3" lengthAdjust="spacingAndGlyphs" transform="rotate(-90 317.6 346.2)">Absolute number</text>
<rect x="356.7" y="353.5" width="11.600000000000023" height="26.899999999999977" fill="#c4c4c6" />
<line x1="362.5" y1="347.3" x2="362.5" y2="354.0" stroke="#555" stroke-width="0.9" />
<line x1="359.15" y1="347.3" x2="365.85" y2="347.3" stroke="#555" stroke-width="0.9" />
<rect x="372" y="379.4" width="5.5" height="1.0" fill="#3a2a2e" />
<rect x="406.5" y="324.2" width="11.5" height="56.19999999999999" fill="#c4c4c6" />
<line x1="412.25" y1="317.9" x2="412.25" y2="324.7" stroke="#555" stroke-width="0.9" />
<line x1="408.85" y1="317.9" x2="415.65" y2="317.9" stroke="#555" stroke-width="0.9" />
<rect x="424.6" y="379.4" width="5.8" height="1.0" fill="#3a2a2e" />
<rect x="437.3" y="373.7" width="11.5" height="6.699999999999989" fill="#1c5693" />
<line x1="443.05" y1="371.3" x2="443.05" y2="374.2" stroke="#333" stroke-width="0.9" />
<line x1="440.05" y1="371.3" x2="446.05" y2="371.3" stroke="#333" stroke-width="0.9" />
<line x1="351.9" y1="380.4" x2="453" y2="380.4" stroke="#231f20" stroke-width="1.1" />
<line x1="377.9" y1="380.4" x2="377.9" y2="382.79999999999995" stroke="#231f20" stroke-width="0.9" />
<line x1="427.5" y1="380.4" x2="427.5" y2="382.79999999999995" stroke="#231f20" stroke-width="0.9" />
<line x1="363.8" y1="337.1" x2="393.8" y2="337.1" stroke="#231f20" stroke-width="0.9" />
<circle cx="377.17" cy="333.5" r="1.05" fill="#231f20"/>
<circle cx="380.62" cy="333.5" r="1.05" fill="#231f20"/>
<line x1="363.8" y1="345.4" x2="378.8" y2="345.4" stroke="#231f20" stroke-width="0.9" />
<circle cx="369.27" cy="341.7" r="1.05" fill="#231f20"/>
<circle cx="372.72" cy="341.7" r="1.05" fill="#231f20"/>
<line x1="379.2" y1="367.3" x2="393.3" y2="367.3" stroke="#231f20" stroke-width="0.9" />
<circle cx="384.27" cy="363.4" r="1.05" fill="#231f20"/>
<circle cx="387.72" cy="363.4" r="1.05" fill="#231f20"/>
<line x1="411.7" y1="306.3" x2="442.9" y2="306.3" stroke="#231f20" stroke-width="0.9" />
<circle cx="423.85" cy="302.7" r="1.05" fill="#231f20"/>
<circle cx="427.30" cy="302.7" r="1.05" fill="#231f20"/>
<circle cx="430.75" cy="302.7" r="1.05" fill="#231f20"/>
<line x1="411.7" y1="314.6" x2="426.7" y2="314.6" stroke="#231f20" stroke-width="0.9" />
<circle cx="416.65" cy="311.0" r="1.05" fill="#231f20"/>
<circle cx="420.10" cy="311.0" r="1.05" fill="#231f20"/>
<circle cx="423.55" cy="311.0" r="1.05" fill="#231f20"/>
<line x1="428" y1="367" x2="442.5" y2="367" stroke="#231f20" stroke-width="0.9" />
<circle cx="434.07" cy="363.1" r="1.05" fill="#231f20"/>
<circle cx="437.52" cy="363.1" r="1.05" fill="#231f20"/>
<text x="361.2" y="391" font-size="7.8" fill="#231f20" stroke="#231f20" stroke-width="0.05" textLength="33" lengthAdjust="spacingAndGlyphs">Immature</text>
<text x="415.2" y="391" font-size="7.8" fill="#231f20" stroke="#231f20" stroke-width="0.05" textLength="24.8" lengthAdjust="spacingAndGlyphs">Mature</text>
<text x="456.2" y="328.5" font-size="7.8" fill="#231f20" stroke="#231f20" stroke-width="0.05" textLength="29.6" lengthAdjust="spacingAndGlyphs">Controls</text>
<text x="456.2" y="342.3" font-size="7.8" fill="#c42a48" stroke="#c42a48" stroke-width="0.05" font-style="italic" textLength="17.6" lengthAdjust="spacingAndGlyphs">N1IC</text>
<text x="456.2" y="355.4" font-size="7.8" fill="#2d5f91" stroke="#2d5f91" stroke-width="0.05" font-style="italic" textLength="43.5" lengthAdjust="spacingAndGlyphs"><tspan dy="-0.00">N1IC Tcf7</tspan><tspan dy="-2.96" font-size="5.15">Δ/Δ</tspan></text>
<text x="6.9" y="412.7" font-size="10" fill="#231f20" stroke="#231f20" stroke-width="0.35" font-weight="bold" textLength="6.3" lengthAdjust="spacingAndGlyphs">E</text>
<g transform="translate(-0.6,400.3)">
<circle cx="39.2" cy="22.5" r="4.0" fill="#f8ebf0" stroke="#b5cbd0" stroke-width="0.8"/>
<circle cx="39.2" cy="22.5" r="2.96" fill="#f2c5d8"/>
<circle cx="16.6" cy="31.2" r="5.6" fill="#f8ebf0" stroke="#b5cbd0" stroke-width="0.8"/>
<circle cx="16.6" cy="31.2" r="4.144" fill="#f2c5d8"/>
<circle cx="36.7" cy="29.4" r="5.8" fill="#f9f3f6" stroke="#46636d" stroke-width="1.0"/>
<circle cx="36.7" cy="29.4" r="4.4079999999999995" fill="#e796ba"/>
<circle cx="36.300000000000004" cy="29.099999999999998" r="2.61" fill="#efb0cc"/>
<circle cx="19.9" cy="23.8" r="6.5" fill="#f9f3f6" stroke="#46636d" stroke-width="1.0"/>
<circle cx="19.9" cy="23.8" r="4.94" fill="#e796ba"/>
<circle cx="19.5" cy="23.5" r="2.9250000000000003" fill="#efb0cc"/>
<circle cx="31.0" cy="20.9" r="6.3" fill="#f9f3f6" stroke="#46636d" stroke-width="1.0"/>
<circle cx="31.0" cy="20.9" r="4.788" fill="#e796ba"/>
<circle cx="30.6" cy="20.599999999999998" r="2.835" fill="#efb0cc"/>
<circle cx="26.9" cy="35.3" r="6.5" fill="#f9f3f6" stroke="#46636d" stroke-width="1.0"/>
<circle cx="26.9" cy="35.3" r="4.94" fill="#e796ba"/>
<circle cx="26.5" cy="35.0" r="2.9250000000000003" fill="#efb0cc"/>
</g>
<text x="13.8" y="452.7" font-size="8.3" fill="#231f20" stroke="#231f20" stroke-width="0.05" textLength="26.2" lengthAdjust="spacingAndGlyphs">CD45.2</text>
<text x="51.5" y="424.7" font-size="7.2" fill="#231f20" stroke="#231f20" stroke-width="0.05" textLength="11.5" lengthAdjust="spacingAndGlyphs">BM</text>
<line x1="48" y1="427.3" x2="67.5" y2="427.3" stroke="#231f20" stroke-width="0.9" />
<path d="M70.2 427.3 L67.0 425.54 L67.0 429.06 Z" fill="#231f20" />
<g transform="translate(72.5,333.9)">
<path d="M12.4 100.2 C8.2 101.8 6.0 105.2 8.0 108.6 C10.5 112 17 113 24 113.6 C31 114.2 37.5 115 41.5 116.2 C44.5 117.2 46.6 118.2 48.0 119.6" fill="none" stroke="#3a3a3a" stroke-width="1.6" stroke-linecap="round"/>
<path d="M12.4 100.2 C8.2 101.8 6.0 105.2 8.0 108.6 C10.5 112 17 113 24 113.6 C31 114.2 37.5 115 41.5 116.2 C44.5 117.2 46.6 118.2 48.0 119.6" fill="none" stroke="#cfcfcf" stroke-width="0.5" stroke-linecap="round"/>
<path d="M13.00 100.60 C12.23 99.37 10.93 97.13 10.60 95.20 C10.27 93.27 10.43 90.73 11.00 89.00 C11.57 87.27 12.67 85.93 14.00 84.80 C15.33 83.67 17.17 82.72 19.00 82.20 C20.83 81.68 23.13 81.58 25.00 81.70 C26.87 81.82 28.87 82.58 30.20 82.90 C31.53 83.22 32.10 83.95 33.00 83.60 C33.90 83.25 34.88 80.83 35.60 80.80 C36.32 80.77 36.63 82.30 37.30 83.40 C37.97 84.50 38.72 86.00 39.60 87.40 C40.48 88.80 41.60 90.33 42.60 91.80 C43.60 93.27 45.20 95.20 45.60 96.20 C46.00 97.20 45.50 97.40 45.00 97.80 C44.50 98.20 43.33 98.17 42.60 98.60 C41.87 99.03 41.37 99.90 40.60 100.40 C39.83 100.90 38.93 101.23 38.00 101.60 C37.07 101.97 36.17 102.20 35.00 102.60 C33.83 103.00 32.67 103.63 31.00 104.00 C29.33 104.37 27.00 104.75 25.00 104.80 C23.00 104.85 20.63 104.67 19.00 104.30 C17.37 103.93 16.20 103.22 15.20 102.60 C14.20 101.98 13.77 101.83 13.00 100.60 Z" fill="#f2f2f2" stroke="#3a3a3a" stroke-width="0.75" stroke-linejoin="round"/>
<path d="M13.5 99.5 C18 103 26 104 33 102.6 C29 104.6 19 105 15 102.6 Z" fill="#cfcfcf" />
<ellipse cx="31.5" cy="88.3" rx="2.9" ry="4.0" transform="rotate(-25 31.5 88.3)" fill="#f2f2f2" stroke="#3a3a3a" stroke-width="0.75"/>
<ellipse cx="31.9" cy="88.7" rx="1.6" ry="2.6" transform="rotate(-25 31.9 88.7)" fill="#cfcfcf"/>
<circle cx="39.8" cy="91.8" r="0.85" fill="#141414"/>
<circle cx="45.3" cy="96.9" r="0.75" fill="#141414"/>
<path d="M40.2 98.8 C41.4 98.6 42.4 99.6 42.2 101.2 L41.2 103.0 L40.0 101.2 Z" fill="#141414" />
<path d="M35.0 101.0 C36.8 100.4 39.0 101.4 39.6 103.6 L40.0 106.2 L38.0 107.0 L36.0 105.4 L35.2 103.2 Z" fill="#141414" />
<path d="M19.5 103.8 C21 103.6 22.4 104.4 23 105.6 L20 105.8 Z" fill="#141414" />
</g>
<circle cx="94.2" cy="425.9" r="4.7" fill="#e8b81e" stroke="#3a3020" stroke-width="0.6"/>
<path d="M93.50 424.68 L92.20 422.44 A3.995 3.995 0 0 1 96.20 422.44 L94.91 424.68 A1.41 1.41 0 0 0 93.50 424.68 Z" fill="#2a2418" />
<path d="M95.61 425.90 L98.20 425.90 A3.995 3.995 0 0 1 96.20 429.36 L94.91 427.12 A1.41 1.41 0 0 0 95.61 425.90 Z" fill="#2a2418" />
<path d="M93.50 427.12 L92.20 429.36 A3.995 3.995 0 0 1 90.20 425.90 L92.79 425.90 A1.41 1.41 0 0 0 93.50 427.12 Z" fill="#2a2418" />
<circle cx="94.2" cy="425.9" r="0.9400000000000001" fill="#2a2418"/>
<text x="85" y="461.5" font-size="8.3" fill="#231f20" stroke="#231f20" stroke-width="0.05" textLength="26.5" lengthAdjust="spacingAndGlyphs">CD45.1</text>
<line x1="27.2" y1="459.2" x2="27.2" y2="478.8" stroke="#231f20" stroke-width="0.9" />
<path d="M27.2 456.5 L25.439999999999998 459.7 L28.96 459.7 Z" fill="#231f20" />
<g transform="translate(0,400.3)">
<path d="M12.4 100.2 C8.2 101.8 6.0 105.2 8.0 108.6 C10.5 112 17 113 24 113.6 C31 114.2 37.5 115 41.5 116.2 C44.5 117.2 46.6 118.2 48.0 119.6" fill="none" stroke="#2a2a2a" stroke-width="1.6" stroke-linecap="round"/>
<path d="M12.4 100.2 C8.2 101.8 6.0 105.2 8.0 108.6 C10.5 112 17 113 24 113.6 C31 114.2 37.5 115 41.5 116.2 C44.5 117.2 46.6 118.2 48.0 119.6" fill="none" stroke="#6e6e6e" stroke-width="0.5" stroke-linecap="round"/>
<path d="M13.00 100.60 C12.23 99.37 10.93 97.13 10.60 95.20 C10.27 93.27 10.43 90.73 11.00 89.00 C11.57 87.27 12.67 85.93 14.00 84.80 C15.33 83.67 17.17 82.72 19.00 82.20 C20.83 81.68 23.13 81.58 25.00 81.70 C26.87 81.82 28.87 82.58 30.20 82.90 C31.53 83.22 32.10 83.95 33.00 83.60 C33.90 83.25 34.88 80.83 35.60 80.80 C36.32 80.77 36.63 82.30 37.30 83.40 C37.97 84.50 38.72 86.00 39.60 87.40 C40.48 88.80 41.60 90.33 42.60 91.80 C43.60 93.27 45.20 95.20 45.60 96.20 C46.00 97.20 45.50 97.40 45.00 97.80 C44.50 98.20 43.33 98.17 42.60 98.60 C41.87 99.03 41.37 99.90 40.60 100.40 C39.83 100.90 38.93 101.23 38.00 101.60 C37.07 101.97 36.17 102.20 35.00 102.60 C33.83 103.00 32.67 103.63 31.00 104.00 C29.33 104.37 27.00 104.75 25.00 104.80 C23.00 104.85 20.63 104.67 19.00 104.30 C17.37 103.93 16.20 103.22 15.20 102.60 C14.20 101.98 13.77 101.83 13.00 100.60 Z" fill="#8e8e8e" stroke="#2a2a2a" stroke-width="0.75" stroke-linejoin="round"/>
<path d="M13.5 99.5 C18 103 26 104 33 102.6 C29 104.6 19 105 15 102.6 Z" fill="#6e6e6e" />
<ellipse cx="31.5" cy="88.3" rx="2.9" ry="4.0" transform="rotate(-25 31.5 88.3)" fill="#8e8e8e" stroke="#2a2a2a" stroke-width="0.75"/>
<ellipse cx="31.9" cy="88.7" rx="1.6" ry="2.6" transform="rotate(-25 31.9 88.7)" fill="#6e6e6e"/>
<circle cx="39.8" cy="91.8" r="0.85" fill="#141414"/>
<circle cx="45.3" cy="96.9" r="0.75" fill="#141414"/>
<path d="M40.2 98.8 C41.4 98.6 42.4 99.6 42.2 101.2 L41.2 103.0 L40.0 101.2 Z" fill="#141414" />
<path d="M35.0 101.0 C36.8 100.4 39.0 101.4 39.6 103.6 L40.0 106.2 L38.0 107.0 L36.0 105.4 L35.2 103.2 Z" fill="#141414" />
<path d="M19.5 103.8 C21 103.6 22.4 104.4 23 105.6 L20 105.8 Z" fill="#141414" />
</g>
<line x1="125.4" y1="427" x2="264.5" y2="427" stroke="#231f20" stroke-width="0.9" />
<path d="M267.3 427 L263.6 425 L263.6 429 Z" fill="#231f20" />
<line x1="125.4" y1="424.8" x2="125.4" y2="429.2" stroke="#231f20" stroke-width="0.8" />
<line x1="183.7" y1="424.8" x2="183.7" y2="429.2" stroke="#231f20" stroke-width="0.8" />
<line x1="191.7" y1="424.8" x2="191.7" y2="429.2" stroke="#231f20" stroke-width="0.8" />
<line x1="200.1" y1="424.8" x2="200.1" y2="429.2" stroke="#231f20" stroke-width="0.8" />
<line x1="208.4" y1="424.8" x2="208.4" y2="429.2" stroke="#231f20" stroke-width="0.8" />
<line x1="216.8" y1="424.8" x2="216.8" y2="429.2" stroke="#231f20" stroke-width="0.8" />
<text x="118.7" y="420.4" font-size="7.8" fill="#231f20" stroke="#231f20" stroke-width="0.05" textLength="11.5" lengthAdjust="spacingAndGlyphs">W0</text>
<text x="177.7" y="420.4" font-size="7.8" fill="#231f20" stroke="#231f20" stroke-width="0.05" textLength="12.1" lengthAdjust="spacingAndGlyphs">W4</text>
<text x="210.6" y="420.4" font-size="7.8" fill="#231f20" stroke="#231f20" stroke-width="0.05" textLength="12.1" lengthAdjust="spacingAndGlyphs">W5</text>
<text x="179.6" y="441.7" font-size="7.6" fill="#231f20" stroke="#231f20" stroke-width="0.05" textLength="40.4" lengthAdjust="spacingAndGlyphs">5x poly(I:C)</text>
<ellipse cx="175.5" cy="450" rx="1.8" ry="3.2" fill="#a3aeb3" stroke="#3c464b" stroke-width="0.7"/>
<rect x="177.1" y="448.8" width="6.6" height="2.4" fill="#c5cfd4" stroke="#3c464b" stroke-width="0.6"/>
<ellipse cx="184.5" cy="450" rx="1.3" ry="3.5" fill="#a3aeb3" stroke="#3c464b" stroke-width="0.7"/>
<rect x="185.79999999999998" y="447.3" width="31.8" height="5.4" fill="#eef4f8" stroke="#3c464b" stroke-width="0.75"/>
<rect x="186.29999999999998" y="449.1" width="30.8" height="1.8" fill="#a9c9df" />
<rect x="216.1" y="448.1" width="2.4" height="3.0" fill="#111" />
<circle cx="221.6" cy="450" r="0.95" fill="#111"/>
<text x="99.5" y="471.6" font-size="7.8" fill="#231f20" stroke="#231f20" stroke-width="0.05" textLength="29.6" lengthAdjust="spacingAndGlyphs">Controls</text>
<text x="99.5" y="487.9" font-size="8" fill="#c42a48" stroke="#c42a48" stroke-width="0.05" textLength="99.2" lengthAdjust="spacingAndGlyphs"><tspan dy="-0.00">R26 </tspan><tspan dy="-0.00" font-style="italic">N1IC</tspan><tspan dy="-3.04" font-size="5.28" font-style="italic">Δ/Δ Mx1Cre</tspan><tspan dy="3.04"> (</tspan><tspan dy="-0.00" font-style="italic">N1IC</tspan><tspan dy="-3.04" font-size="5.28" font-style="italic">Δ/Δ</tspan><tspan dy="3.04">)</tspan></text>
<text x="99.5" y="504.4" font-size="8" fill="#2d5f91" stroke="#2d5f91" stroke-width="0.05" textLength="152.5" lengthAdjust="spacingAndGlyphs"><tspan dy="-0.00">R26 </tspan><tspan dy="-0.00" font-style="italic">N1IC</tspan><tspan dy="-3.04" font-size="5.28">Δ/Δ</tspan><tspan dy="3.04"> </tspan><tspan dy="-0.00" font-style="italic">Tcf7</tspan><tspan dy="-3.04" font-size="5.28">Δ/Δ Mx1Cre</tspan><tspan dy="3.04"> (</tspan><tspan dy="-0.00" font-style="italic">N1IC</tspan><tspan dy="-3.04" font-size="5.28">Δ/Δ</tspan><tspan dy="3.04" font-style="italic"> Tcf7</tspan><tspan dy="-3.04" font-size="5.28">Δ/Δ</tspan><tspan dy="3.04">)</tspan></text>
<text x="99.5" y="520.3" font-size="8" fill="#5dbb63" stroke="#5dbb63" stroke-width="0.05" textLength="175.1" lengthAdjust="spacingAndGlyphs"><tspan dy="-0.00">R26 </tspan><tspan dy="-0.00" font-style="italic">N1IC</tspan><tspan dy="-3.04" font-size="5.28">Δ/Δ</tspan><tspan dy="3.04"> </tspan><tspan dy="-0.00" font-style="italic">β-catenin</tspan><tspan dy="-3.04" font-size="5.28">Δ/Δ Mx1Cre</tspan><tspan dy="3.04"> (</tspan><tspan dy="-0.00" font-style="italic">N1IC</tspan><tspan dy="-3.04" font-size="5.28">Δ/Δ</tspan><tspan dy="3.04" font-style="italic"> β-cat</tspan><tspan dy="-3.04" font-size="5.28">Δ/Δ</tspan><tspan dy="3.04">)</tspan></text>
<text x="295.3" y="412.7" font-size="10" fill="#231f20" stroke="#231f20" stroke-width="0.35" font-weight="bold" textLength="5.5" lengthAdjust="spacingAndGlyphs">F</text>
<line x1="319" y1="420.7" x2="463.75" y2="420.7" stroke="#3f6f9f" stroke-width="1.3" />
<path d="M319 420.7 L325.55 420.70 L325.55 431.23 L330.84 431.23 L330.84 441.75 L333.87 441.75 L333.87 452.28 L337.65 452.28 L337.65 462.81 L339.16 462.81 L339.16 473.33 L340.80 473.33 L340.80 484.82 L342.94 484.82 L342.94 495.35 L345.96 495.35 L345.96 516.40" fill="none" stroke="#7cc47e" stroke-width="1.1" stroke-linejoin="miter"/>
<path d="M319 420.7 L320.01 420.70 L320.01 424.53 L320.76 424.53 L320.76 446.54 L324.80 446.54 L324.80 479.08 L325.55 479.08 L325.55 495.35 L326.81 495.35 L326.81 500.13 L333.87 500.13 L333.87 505.87 L334.88 505.87 L334.88 516.40" fill="none" stroke="#b81a38" stroke-width="1.5" stroke-linejoin="miter"/>
<line x1="319" y1="420.2" x2="319" y2="516.9" stroke="#231f20" stroke-width="1.15" />
<line x1="316.4" y1="420.7" x2="319" y2="420.7" stroke="#231f20" stroke-width="0.9" />
<text x="315.0" y="422.9" font-size="6.9" fill="#231f20" stroke="#231f20" stroke-width="0.05" text-anchor="end">100</text>
<line x1="316.4" y1="444.625" x2="319" y2="444.625" stroke="#231f20" stroke-width="0.9" />
<text x="315.0" y="446.825" font-size="6.9" fill="#231f20" stroke="#231f20" stroke-width="0.05" text-anchor="end">75</text>
<line x1="316.4" y1="468.54999999999995" x2="319" y2="468.54999999999995" stroke="#231f20" stroke-width="0.9" />
<text x="315.0" y="470.74999999999994" font-size="6.9" fill="#231f20" stroke="#231f20" stroke-width="0.05" text-anchor="end">50</text>
<line x1="316.4" y1="492.47499999999997" x2="319" y2="492.47499999999997" stroke="#231f20" stroke-width="0.9" />
<text x="315.0" y="494.67499999999995" font-size="6.9" fill="#231f20" stroke="#231f20" stroke-width="0.05" text-anchor="end">25</text>
<line x1="316.4" y1="516.4" x2="319" y2="516.4" stroke="#231f20" stroke-width="0.9" />
<text x="315.0" y="518.6" font-size="6.9" fill="#231f20" stroke="#231f20" stroke-width="0.05" text-anchor="end">0</text>
<line x1="319" y1="516.4" x2="453.75" y2="516.4" stroke="#231f20" stroke-width="1.15" />
<line x1="319.0" y1="516.4" x2="319.0" y2="519.0" stroke="#231f20" stroke-width="0.9" />
<text x="319.0" y="528.4" font-size="6.9" fill="#231f20" stroke="#231f20" stroke-width="0.05" text-anchor="middle">0</text>
<line x1="344.2" y1="516.4" x2="344.2" y2="519.0" stroke="#231f20" stroke-width="0.9" />
<text x="344.2" y="528.4" font-size="6.9" fill="#231f20" stroke="#231f20" stroke-width="0.05" text-anchor="middle">20</text>
<line x1="369.4" y1="516.4" x2="369.4" y2="519.0" stroke="#231f20" stroke-width="0.9" />
<text x="369.4" y="528.4" font-size="6.9" fill="#231f20" stroke="#231f20" stroke-width="0.05" text-anchor="middle">40</text>
<line x1="394.6" y1="516.4" x2="394.6" y2="519.0" stroke="#231f20" stroke-width="0.9" />
<text x="394.6" y="528.4" font-size="6.9" fill="#231f20" stroke="#231f20" stroke-width="0.05" text-anchor="middle">60</text>
<line x1="419.8" y1="516.4" x2="419.8" y2="519.0" stroke="#231f20" stroke-width="0.9" />
<text x="419.8" y="528.4" font-size="6.9" fill="#231f20" stroke="#231f20" stroke-width="0.05" text-anchor="middle">80</text>
<line x1="445.0" y1="516.4" x2="445.0" y2="519.0" stroke="#231f20" stroke-width="0.9" />
<text x="445.0" y="528.4" font-size="6.9" fill="#231f20" stroke="#231f20" stroke-width="0.05" text-anchor="middle">100</text>
<text x="301.9" y="465.6" font-size="9.0" fill="#231f20" stroke="#231f20" stroke-width="0.05" text-anchor="middle" textLength="36.5" lengthAdjust="spacingAndGlyphs" transform="rotate(-90 301.9 465.6)">Survival [%]</text>
<text x="349.7" y="540.0" font-size="8.4" fill="#231f20" stroke="#231f20" stroke-width="0.05" textLength="73.4" lengthAdjust="spacingAndGlyphs">Time post poly(I:C) [day]</text>
<text x="460.5" y="439.8" font-size="7.6" fill="#231f20" stroke="#231f20" stroke-width="0.05" textLength="27.7" lengthAdjust="spacingAndGlyphs">Controls</text>
<line x1="458.8" y1="440.6" x2="458.8" y2="454.2" stroke="#231f20" stroke-width="0.9" />
<circle cx="455.1" cy="441.40" r="1.1" fill="#231f20"/>
<circle cx="455.1" cy="444.87" r="1.1" fill="#231f20"/>
<circle cx="455.1" cy="448.33" r="1.1" fill="#231f20"/>
<circle cx="455.1" cy="451.80" r="1.1" fill="#231f20"/>
<text x="460.5" y="458.8" font-size="7.6" fill="#c42a48" stroke="#c42a48" stroke-width="0.05" font-style="italic" textLength="24.8" lengthAdjust="spacingAndGlyphs"><tspan dy="-0.00">N1IC</tspan><tspan dy="-2.89" font-size="5.02">Δ/Δ</tspan></text>
<line x1="458.6" y1="460.8" x2="458.6" y2="497.3" stroke="#231f20" stroke-width="0.9" />
<circle cx="455.1" cy="474.20" r="1.1" fill="#231f20"/>
<circle cx="455.1" cy="477.80" r="1.1" fill="#231f20"/>
<circle cx="455.1" cy="481.40" r="1.1" fill="#231f20"/>
<line x1="466.9" y1="462.2" x2="466.9" y2="476" stroke="#231f20" stroke-width="0.9" />
<circle cx="462.8" cy="463.50" r="1.1" fill="#231f20"/>
<circle cx="462.8" cy="467.17" r="1.1" fill="#231f20"/>
<circle cx="462.8" cy="470.83" r="1.1" fill="#231f20"/>
<circle cx="462.8" cy="474.50" r="1.1" fill="#231f20"/>
<line x1="466.9" y1="484" x2="466.9" y2="497.3" stroke="#231f20" stroke-width="0.9" />
<circle cx="462.8" cy="485.30" r="1.1" fill="#231f20"/>
<circle cx="462.8" cy="488.97" r="1.1" fill="#231f20"/>
<circle cx="462.8" cy="492.63" r="1.1" fill="#231f20"/>
<circle cx="462.8" cy="496.30" r="1.1" fill="#231f20"/>
<text x="460.5" y="482.4" font-size="7.6" fill="#2d5f91" stroke="#2d5f91" stroke-width="0.05" font-style="italic" textLength="49" lengthAdjust="spacingAndGlyphs"><tspan dy="-0.00">N1IC</tspan><tspan dy="-2.89" font-size="5.02">Δ/Δ</tspan><tspan dy="2.89"> Tcf7</tspan><tspan dy="-2.89" font-size="5.02">Δ/Δ</tspan></text>
<text x="460.5" y="504.8" font-size="7.6" fill="#5dbb63" stroke="#5dbb63" stroke-width="0.05" font-style="italic" textLength="50" lengthAdjust="spacingAndGlyphs"><tspan dy="-0.00">N1IC</tspan><tspan dy="-2.89" font-size="5.02">Δ/Δ</tspan><tspan dy="2.89"> β-cat</tspan><tspan dy="-2.89" font-size="5.02">Δ/Δ</tspan></text>
<text x="6.9" y="570.8" font-size="10" fill="#231f20" stroke="#231f20" stroke-width="0.35" font-weight="bold" textLength="8.5" lengthAdjust="spacingAndGlyphs">G</text>
<text x="52" y="571.5" font-size="9.2" fill="#231f20" stroke="#231f20" stroke-width="0.05" textLength="35.7" lengthAdjust="spacingAndGlyphs">Controls</text>
<text x="142.7" y="571.3" font-size="9.2" fill="#c42a48" stroke="#c42a48" stroke-width="0.05" font-style="italic" textLength="31.3" lengthAdjust="spacingAndGlyphs"><tspan dy="-0.00">N1IC</tspan><tspan dy="-3.50" font-size="6.07">Δ/Δ</tspan></text>
<text x="217.9" y="571.3" font-size="9.2" fill="#2d5f91" stroke="#2d5f91" stroke-width="0.05" font-style="italic" textLength="64" lengthAdjust="spacingAndGlyphs"><tspan dy="-0.00">N1IC</tspan><tspan dy="-3.50" font-size="6.07">Δ/Δ</tspan><tspan dy="3.50"> Tcf7</tspan><tspan dy="-3.50" font-size="6.07">Δ/Δ</tspan></text>
<text x="308.8" y="572" font-size="9.2" fill="#5dbb63" stroke="#5dbb63" stroke-width="0.05" font-style="italic" textLength="58.7" lengthAdjust="spacingAndGlyphs"><tspan dy="-0.00">N1IC </tspan><tspan dy="-3.50" font-size="6.07">Δ/Δ</tspan><tspan dy="3.50"> β-cat</tspan><tspan dy="-3.50" font-size="6.07">Δ/Δ</tspan></text>
<rect x="33.6" y="575.8" width="71.1" height="71.20000000000005" fill="none" stroke="#575757" stroke-width="0.8"/>
<line x1="72.6" y1="575.8" x2="72.6" y2="647.0" stroke="#575757" stroke-width="0.7" />
<line x1="33.6" y1="619.3" x2="104.7" y2="619.3" stroke="#575757" stroke-width="0.7" />
<line x1="33.4" y1="575.8" x2="33.4" y2="647.0" stroke="#333" stroke-width="0.9" />
<line x1="33.6" y1="647.2" x2="104.7" y2="647.2" stroke="#333" stroke-width="0.9" />
<line x1="32.6" y1="577" x2="32.6" y2="600" stroke="#555" stroke-width="1.4" stroke-dasharray="0.5 1.3"/>
<line x1="32.6" y1="603" x2="32.6" y2="625" stroke="#555" stroke-width="1.4" stroke-dasharray="0.5 1.3"/>
<line x1="49.6" y1="648.0" x2="67.6" y2="648.0" stroke="#555" stroke-width="1.4" stroke-dasharray="0.5 1.3"/>
<line x1="70.6" y1="648.0" x2="89.6" y2="648.0" stroke="#555" stroke-width="1.4" stroke-dasharray="0.5 1.3"/>
<line x1="91.6" y1="648.0" x2="104.6" y2="648.0" stroke="#555" stroke-width="1.4" stroke-dasharray="0.5 1.3"/>
<line x1="31.200000000000003" y1="589" x2="33.6" y2="589" stroke="#222" stroke-width="0.9" />
<line x1="31.200000000000003" y1="616" x2="33.6" y2="616" stroke="#222" stroke-width="0.9" />
<line x1="32.4" y1="639.7" x2="32.4" y2="647.3" stroke="#231f20" stroke-width="2.0" />
<line x1="36.2" y1="648.3" x2="46.900000000000006" y2="648.3" stroke="#231f20" stroke-width="2.0" />
<text x="42.5" y="659.7" font-size="7.3" fill="#231f20" stroke="#231f20" stroke-width="0.05" text-anchor="middle">0</text>
<text x="61.0" y="659.7" font-size="7.3" fill="#231f20" stroke="#231f20" stroke-width="0.05" text-anchor="middle"><tspan dy="-0.00">10</tspan><tspan dy="-2.90" font-size="4.80">2</tspan></text>
<text x="80.6" y="659.7" font-size="7.3" fill="#231f20" stroke="#231f20" stroke-width="0.05" text-anchor="middle"><tspan dy="-0.00">10</tspan><tspan dy="-2.90" font-size="4.80">3</tspan></text>
<text x="98.6" y="659.7" font-size="7.3" fill="#231f20" stroke="#231f20" stroke-width="0.05" text-anchor="middle"><tspan dy="-0.00">10</tspan><tspan dy="-2.90" font-size="4.80">4</tspan></text>
<text x="28.0" y="591.7" font-size="7.3" fill="#231f20" stroke="#231f20" stroke-width="0.05" text-anchor="end"><tspan dy="-0.00">10</tspan><tspan dy="-2.90" font-size="4.80">3</tspan></text>
<text x="28.0" y="618.6" font-size="7.3" fill="#231f20" stroke="#231f20" stroke-width="0.05" text-anchor="end"><tspan dy="-0.00">10</tspan><tspan dy="-2.90" font-size="4.80">2</tspan></text>
<text x="24.6" y="644.0" font-size="7.3" fill="#231f20" stroke="#231f20" stroke-width="0.05" text-anchor="end">0</text>
<text x="35.9" y="583.8" font-size="6.5" fill="#231f20" stroke="#231f20" stroke-width="0.05">4</text>
<text x="102.60000000000001" y="583.9" font-size="6.5" fill="#231f20" stroke="#231f20" stroke-width="0.05" text-anchor="end">1</text>
<text x="34.9" y="646.0" font-size="6.5" fill="#231f20" stroke="#231f20" stroke-width="0.05">93</text>
<text x="102.7" y="646.0" font-size="6.5" fill="#231f20" stroke="#231f20" stroke-width="0.05" text-anchor="end">2</text>
<rect x="122.5" y="575.8" width="72.1" height="71.20000000000005" fill="none" stroke="#575757" stroke-width="0.8"/>
<line x1="164.4" y1="575.8" x2="164.4" y2="647.0" stroke="#575757" stroke-width="0.7" />
<line x1="122.5" y1="620.6" x2="194.6" y2="620.6" stroke="#575757" stroke-width="0.7" />
<line x1="122.3" y1="575.8" x2="122.3" y2="647.0" stroke="#333" stroke-width="0.9" />
<line x1="122.5" y1="647.2" x2="194.6" y2="647.2" stroke="#333" stroke-width="0.9" />
<line x1="121.5" y1="577" x2="121.5" y2="600" stroke="#555" stroke-width="1.4" stroke-dasharray="0.5 1.3"/>
<line x1="121.5" y1="603" x2="121.5" y2="625" stroke="#555" stroke-width="1.4" stroke-dasharray="0.5 1.3"/>
<line x1="138.5" y1="648.0" x2="156.5" y2="648.0" stroke="#555" stroke-width="1.4" stroke-dasharray="0.5 1.3"/>
<line x1="159.5" y1="648.0" x2="178.5" y2="648.0" stroke="#555" stroke-width="1.4" stroke-dasharray="0.5 1.3"/>
<line x1="180.5" y1="648.0" x2="193.5" y2="648.0" stroke="#555" stroke-width="1.4" stroke-dasharray="0.5 1.3"/>
<line x1="120.1" y1="589" x2="122.5" y2="589" stroke="#222" stroke-width="0.9" />
<line x1="120.1" y1="616" x2="122.5" y2="616" stroke="#222" stroke-width="0.9" />
<line x1="121.3" y1="639.7" x2="121.3" y2="647.3" stroke="#231f20" stroke-width="2.0" />
<line x1="125.1" y1="648.3" x2="135.8" y2="648.3" stroke="#231f20" stroke-width="2.0" />
<text x="131.4" y="659.7" font-size="7.3" fill="#231f20" stroke="#231f20" stroke-width="0.05" text-anchor="middle">0</text>
<text x="149.9" y="659.7" font-size="7.3" fill="#231f20" stroke="#231f20" stroke-width="0.05" text-anchor="middle"><tspan dy="-0.00">10</tspan><tspan dy="-2.90" font-size="4.80">2</tspan></text>
<text x="169.5" y="659.7" font-size="7.3" fill="#231f20" stroke="#231f20" stroke-width="0.05" text-anchor="middle"><tspan dy="-0.00">10</tspan><tspan dy="-2.90" font-size="4.80">3</tspan></text>
<text x="187.5" y="659.7" font-size="7.3" fill="#231f20" stroke="#231f20" stroke-width="0.05" text-anchor="middle"><tspan dy="-0.00">10</tspan><tspan dy="-2.90" font-size="4.80">4</tspan></text>
<text x="116.9" y="591.7" font-size="7.3" fill="#231f20" stroke="#231f20" stroke-width="0.05" text-anchor="end"><tspan dy="-0.00">10</tspan><tspan dy="-2.90" font-size="4.80">3</tspan></text>
<text x="116.9" y="618.6" font-size="7.3" fill="#231f20" stroke="#231f20" stroke-width="0.05" text-anchor="end"><tspan dy="-0.00">10</tspan><tspan dy="-2.90" font-size="4.80">2</tspan></text>
<text x="113.5" y="644.0" font-size="7.3" fill="#231f20" stroke="#231f20" stroke-width="0.05" text-anchor="end">0</text>
<text x="124.8" y="583.8" font-size="6.5" fill="#231f20" stroke="#231f20" stroke-width="0.05">7</text>
<text x="192.5" y="583.9" font-size="6.5" fill="#231f20" stroke="#231f20" stroke-width="0.05" text-anchor="end">58</text>
<text x="123.8" y="646.0" font-size="6.5" fill="#231f20" stroke="#231f20" stroke-width="0.05">28</text>
<text x="192.6" y="646.0" font-size="6.5" fill="#231f20" stroke="#231f20" stroke-width="0.05" text-anchor="end">7</text>
<rect x="212.7" y="575.8" width="71.90000000000003" height="71.20000000000005" fill="none" stroke="#575757" stroke-width="0.8"/>
<line x1="256.3" y1="575.8" x2="256.3" y2="647.0" stroke="#575757" stroke-width="0.7" />
<line x1="212.7" y1="618.3" x2="284.6" y2="618.3" stroke="#575757" stroke-width="0.7" />
<line x1="212.5" y1="575.8" x2="212.5" y2="647.0" stroke="#333" stroke-width="0.9" />
<line x1="212.7" y1="647.2" x2="284.6" y2="647.2" stroke="#333" stroke-width="0.9" />
<line x1="211.7" y1="577" x2="211.7" y2="600" stroke="#555" stroke-width="1.4" stroke-dasharray="0.5 1.3"/>
<line x1="211.7" y1="603" x2="211.7" y2="625" stroke="#555" stroke-width="1.4" stroke-dasharray="0.5 1.3"/>
<line x1="228.7" y1="648.0" x2="246.7" y2="648.0" stroke="#555" stroke-width="1.4" stroke-dasharray="0.5 1.3"/>
<line x1="249.7" y1="648.0" x2="268.7" y2="648.0" stroke="#555" stroke-width="1.4" stroke-dasharray="0.5 1.3"/>
<line x1="270.7" y1="648.0" x2="283.7" y2="648.0" stroke="#555" stroke-width="1.4" stroke-dasharray="0.5 1.3"/>
<line x1="210.29999999999998" y1="589" x2="212.7" y2="589" stroke="#222" stroke-width="0.9" />
<line x1="210.29999999999998" y1="616" x2="212.7" y2="616" stroke="#222" stroke-width="0.9" />
<line x1="211.5" y1="639.7" x2="211.5" y2="647.3" stroke="#231f20" stroke-width="2.0" />
<line x1="215.29999999999998" y1="648.3" x2="226.0" y2="648.3" stroke="#231f20" stroke-width="2.0" />
<text x="221.6" y="659.7" font-size="7.3" fill="#231f20" stroke="#231f20" stroke-width="0.05" text-anchor="middle">0</text>
<text x="240.1" y="659.7" font-size="7.3" fill="#231f20" stroke="#231f20" stroke-width="0.05" text-anchor="middle"><tspan dy="-0.00">10</tspan><tspan dy="-2.90" font-size="4.80">2</tspan></text>
<text x="259.7" y="659.7" font-size="7.3" fill="#231f20" stroke="#231f20" stroke-width="0.05" text-anchor="middle"><tspan dy="-0.00">10</tspan><tspan dy="-2.90" font-size="4.80">3</tspan></text>
<text x="277.7" y="659.7" font-size="7.3" fill="#231f20" stroke="#231f20" stroke-width="0.05" text-anchor="middle"><tspan dy="-0.00">10</tspan><tspan dy="-2.90" font-size="4.80">4</tspan></text>
<text x="207.1" y="591.7" font-size="7.3" fill="#231f20" stroke="#231f20" stroke-width="0.05" text-anchor="end"><tspan dy="-0.00">10</tspan><tspan dy="-2.90" font-size="4.80">3</tspan></text>
<text x="207.1" y="618.6" font-size="7.3" fill="#231f20" stroke="#231f20" stroke-width="0.05" text-anchor="end"><tspan dy="-0.00">10</tspan><tspan dy="-2.90" font-size="4.80">2</tspan></text>
<text x="203.7" y="644.0" font-size="7.3" fill="#231f20" stroke="#231f20" stroke-width="0.05" text-anchor="end">0</text>
<text x="215.0" y="583.8" font-size="6.5" fill="#231f20" stroke="#231f20" stroke-width="0.05">3</text>
<text x="282.5" y="583.9" font-size="6.5" fill="#231f20" stroke="#231f20" stroke-width="0.05" text-anchor="end">0</text>
<text x="214.0" y="646.0" font-size="6.5" fill="#231f20" stroke="#231f20" stroke-width="0.05">96</text>
<text x="282.6" y="646.0" font-size="6.5" fill="#231f20" stroke="#231f20" stroke-width="0.05" text-anchor="end">1</text>
<rect x="302.5" y="575.8" width="72.10000000000002" height="71.20000000000005" fill="none" stroke="#575757" stroke-width="0.8"/>
<line x1="343.5" y1="575.8" x2="343.5" y2="647.0" stroke="#575757" stroke-width="0.7" />
<line x1="302.5" y1="620.0" x2="374.6" y2="620.0" stroke="#575757" stroke-width="0.7" />
<line x1="302.3" y1="575.8" x2="302.3" y2="647.0" stroke="#333" stroke-width="0.9" />
<line x1="302.5" y1="647.2" x2="374.6" y2="647.2" stroke="#333" stroke-width="0.9" />
<line x1="301.5" y1="577" x2="301.5" y2="600" stroke="#555" stroke-width="1.4" stroke-dasharray="0.5 1.3"/>
<line x1="301.5" y1="603" x2="301.5" y2="625" stroke="#555" stroke-width="1.4" stroke-dasharray="0.5 1.3"/>
<line x1="318.5" y1="648.0" x2="336.5" y2="648.0" stroke="#555" stroke-width="1.4" stroke-dasharray="0.5 1.3"/>
<line x1="339.5" y1="648.0" x2="358.5" y2="648.0" stroke="#555" stroke-width="1.4" stroke-dasharray="0.5 1.3"/>
<line x1="360.5" y1="648.0" x2="373.5" y2="648.0" stroke="#555" stroke-width="1.4" stroke-dasharray="0.5 1.3"/>
<line x1="300.1" y1="589" x2="302.5" y2="589" stroke="#222" stroke-width="0.9" />
<line x1="300.1" y1="616" x2="302.5" y2="616" stroke="#222" stroke-width="0.9" />
<line x1="301.3" y1="639.7" x2="301.3" y2="647.3" stroke="#231f20" stroke-width="2.0" />
<line x1="305.1" y1="648.3" x2="315.8" y2="648.3" stroke="#231f20" stroke-width="2.0" />
<text x="311.4" y="659.7" font-size="7.3" fill="#231f20" stroke="#231f20" stroke-width="0.05" text-anchor="middle">0</text>
<text x="329.9" y="659.7" font-size="7.3" fill="#231f20" stroke="#231f20" stroke-width="0.05" text-anchor="middle"><tspan dy="-0.00">10</tspan><tspan dy="-2.90" font-size="4.80">2</tspan></text>
<text x="349.5" y="659.7" font-size="7.3" fill="#231f20" stroke="#231f20" stroke-width="0.05" text-anchor="middle"><tspan dy="-0.00">10</tspan><tspan dy="-2.90" font-size="4.80">3</tspan></text>
<text x="367.5" y="659.7" font-size="7.3" fill="#231f20" stroke="#231f20" stroke-width="0.05" text-anchor="middle"><tspan dy="-0.00">10</tspan><tspan dy="-2.90" font-size="4.80">4</tspan></text>
<text x="296.9" y="591.7" font-size="7.3" fill="#231f20" stroke="#231f20" stroke-width="0.05" text-anchor="end"><tspan dy="-0.00">10</tspan><tspan dy="-2.90" font-size="4.80">3</tspan></text>
<text x="296.9" y="618.6" font-size="7.3" fill="#231f20" stroke="#231f20" stroke-width="0.05" text-anchor="end"><tspan dy="-0.00">10</tspan><tspan dy="-2.90" font-size="4.80">2</tspan></text>
<text x="293.5" y="644.0" font-size="7.3" fill="#231f20" stroke="#231f20" stroke-width="0.05" text-anchor="end">0</text>
<text x="304.8" y="583.8" font-size="6.5" fill="#231f20" stroke="#231f20" stroke-width="0.05">5</text>
<text x="372.5" y="583.9" font-size="6.5" fill="#231f20" stroke="#231f20" stroke-width="0.05" text-anchor="end">63</text>
<text x="303.8" y="646.0" font-size="6.5" fill="#231f20" stroke="#231f20" stroke-width="0.05">25</text>
<text x="372.6" y="646.0" font-size="6.5" fill="#231f20" stroke="#231f20" stroke-width="0.05" text-anchor="end">7</text>
<text x="13.8" y="612.5" font-size="10" fill="#231f20" stroke="#231f20" stroke-width="0.05" text-anchor="middle" textLength="13.3" lengthAdjust="spacingAndGlyphs" transform="rotate(-90 13.8 612.5)">CD4</text>
<text x="32.3" y="669.3" font-size="7.8" fill="#231f20" stroke="#231f20" stroke-width="0.05" textLength="15.4" lengthAdjust="spacingAndGlyphs">CD8</text>
<line x1="50.8" y1="666.6" x2="372.5" y2="666.6" stroke="#231f20" stroke-width="0.9" />
<path d="M376 666.6 L372 664.6 L372 668.6 Z" fill="#231f20" />
<path d="M52.00 632.30 C52.50 631.13 54.33 632.85 56.00 633.00 C57.67 633.15 60.00 633.20 62.00 633.20 C64.00 633.20 66.57 632.60 68.00 633.00 C69.43 633.40 70.43 634.67 70.60 635.60 C70.77 636.53 70.43 638.03 69.00 638.60 C67.57 639.17 64.08 638.88 62.00 639.00 C59.92 639.12 58.00 639.13 56.50 639.30 C55.00 639.47 53.75 641.17 53.00 640.00 C52.25 638.83 51.50 633.47 52.00 632.30 Z" fill="#fff" stroke="#1a1a1a" stroke-width="0.6" />
<path d="M53.00 633.80 C53.67 633.08 56.17 634.18 58.00 634.30 C59.83 634.42 62.37 634.35 64.00 634.50 C65.63 634.65 67.10 634.82 67.80 635.20 C68.50 635.58 68.83 636.38 68.20 636.80 C67.57 637.22 65.70 637.52 64.00 637.70 C62.30 637.88 59.67 637.75 58.00 637.90 C56.33 638.05 54.83 639.28 54.00 638.60 C53.17 637.92 52.33 634.52 53.00 633.80 Z" fill="none" stroke="#3a3a3a" stroke-width="0.5" />
<defs><linearGradient id="gg1" gradientUnits="userSpaceOnUse" x1="0" y1="616" x2="0" y2="640"><stop offset="0" stop-color="#ffffff"/><stop offset="0.5" stop-color="#ffffff"/><stop offset="0.75" stop-color="#888"/><stop offset="1" stop-color="#222"/></linearGradient></defs>
<path d="M46.60 615.30 C47.43 615.20 48.37 616.40 49.20 617.60 C50.03 618.80 50.90 620.77 51.60 622.50 C52.30 624.23 52.73 626.37 53.40 628.00 C54.07 629.63 55.07 630.63 55.60 632.30 C56.13 633.97 56.73 636.42 56.60 638.00 C56.47 639.58 56.23 641.08 54.80 641.80 C53.37 642.52 50.13 642.28 48.00 642.30 C45.87 642.32 43.18 642.62 42.00 641.90 C40.82 641.18 41.03 639.82 40.90 638.00 C40.77 636.18 40.95 633.33 41.20 631.00 C41.45 628.67 41.90 626.13 42.40 624.00 C42.90 621.87 43.50 619.65 44.20 618.20 C44.90 616.75 45.77 615.40 46.60 615.30 Z" fill="url(#gg1)" />
<path d="M46.60 615.30 C47.43 615.20 48.37 616.40 49.20 617.60 C50.03 618.80 50.90 620.77 51.60 622.50 C52.30 624.23 52.73 626.37 53.40 628.00 C54.07 629.63 55.07 630.63 55.60 632.30 C56.13 633.97 56.73 636.42 56.60 638.00 C56.47 639.58 56.23 641.08 54.80 641.80 C53.37 642.52 50.13 642.28 48.00 642.30 C45.87 642.32 43.18 642.62 42.00 641.90 C40.82 641.18 41.03 639.82 40.90 638.00 C40.77 636.18 40.95 633.33 41.20 631.00 C41.45 628.67 41.90 626.13 42.40 624.00 C42.90 621.87 43.50 619.65 44.20 618.20 C44.90 616.75 45.77 615.40 46.60 615.30 Z" fill="none" stroke="#111" stroke-width="0.6" />
<path d="M46.66 618.83 C47.37 618.74 48.18 619.77 48.89 620.81 C49.61 621.84 50.35 623.53 50.96 625.02 C51.56 626.51 51.93 628.35 52.50 629.75 C53.08 631.15 53.94 632.01 54.40 633.45 C54.85 634.88 55.37 636.99 55.26 638.35 C55.14 639.71 54.94 641.00 53.71 641.62 C52.48 642.23 49.69 642.03 47.86 642.05 C46.03 642.06 43.72 642.32 42.70 641.70 C41.68 641.09 41.87 639.91 41.75 638.35 C41.64 636.79 41.80 634.34 42.01 632.33 C42.23 630.32 42.61 628.14 43.04 626.31 C43.47 624.48 43.99 622.57 44.59 621.32 C45.19 620.08 45.94 618.91 46.66 618.83 Z" fill="none" stroke="#111" stroke-width="0.6" />
<path d="M46.71 622.10 C47.32 622.03 48.00 622.91 48.61 623.78 C49.21 624.66 49.85 626.09 50.36 627.36 C50.87 628.63 51.19 630.18 51.67 631.38 C52.16 632.57 52.89 633.30 53.28 634.51 C53.67 635.73 54.11 637.52 54.01 638.67 C53.91 639.83 53.74 640.93 52.69 641.45 C51.65 641.97 49.29 641.80 47.73 641.81 C46.17 641.83 44.21 642.05 43.35 641.52 C42.49 641.00 42.64 640.00 42.55 638.67 C42.45 637.35 42.58 635.27 42.77 633.57 C42.95 631.86 43.28 630.01 43.64 628.46 C44.01 626.90 44.45 625.28 44.96 624.22 C45.47 623.16 46.10 622.18 46.71 622.10 Z" fill="none" stroke="#111" stroke-width="0.6" />
<path d="M46.76 625.38 C47.26 625.32 47.82 626.04 48.32 626.76 C48.82 627.48 49.34 628.66 49.76 629.70 C50.18 630.74 50.44 632.02 50.84 633.00 C51.24 633.98 51.84 634.58 52.16 635.58 C52.48 636.58 52.84 638.05 52.76 639.00 C52.68 639.95 52.54 640.85 51.68 641.28 C50.82 641.71 48.88 641.57 47.60 641.58 C46.32 641.59 44.71 641.77 44.00 641.34 C43.29 640.91 43.42 640.09 43.34 639.00 C43.26 637.91 43.37 636.20 43.52 634.80 C43.67 633.40 43.94 631.88 44.24 630.60 C44.54 629.32 44.90 627.99 45.32 627.12 C45.74 626.25 46.26 625.44 46.76 625.38 Z" fill="none" stroke="#111" stroke-width="0.6" />
<path d="M46.81 628.40 C47.21 628.36 47.66 628.93 48.06 629.51 C48.46 630.08 48.87 631.03 49.21 631.86 C49.54 632.69 49.75 633.72 50.07 634.50 C50.39 635.28 50.87 635.76 51.13 636.56 C51.38 637.36 51.67 638.54 51.61 639.30 C51.54 640.06 51.43 640.78 50.74 641.12 C50.06 641.47 48.50 641.36 47.48 641.36 C46.46 641.37 45.17 641.52 44.60 641.17 C44.03 640.83 44.14 640.17 44.07 639.30 C44.01 638.43 44.10 637.06 44.22 635.94 C44.34 634.82 44.55 633.60 44.79 632.58 C45.03 631.56 45.32 630.49 45.66 629.80 C45.99 629.10 46.41 628.45 46.81 628.40 Z" fill="none" stroke="#111" stroke-width="0.6" />
<path d="M41.20 632.50 C41.90 631.27 43.53 630.82 45.00 630.60 C46.47 630.38 48.53 630.70 50.00 631.20 C51.47 631.70 52.87 632.63 53.80 633.60 C54.73 634.57 55.47 635.77 55.60 637.00 C55.73 638.23 55.87 640.10 54.60 641.00 C53.33 641.90 50.17 642.23 48.00 642.40 C45.83 642.57 42.80 642.73 41.60 642.00 C40.40 641.27 40.87 639.58 40.80 638.00 C40.73 636.42 40.50 633.73 41.20 632.50 Z" fill="#000" />
<path d="M135.40 604.00 C136.80 602.83 140.15 602.00 143.00 603.00 C145.85 604.00 150.83 607.42 152.50 610.00 C154.17 612.58 153.92 616.25 153.00 618.50 C152.08 620.75 149.17 622.62 147.00 623.50 C144.83 624.38 141.75 624.72 140.00 623.80 C138.25 622.88 137.40 620.30 136.50 618.00 C135.60 615.70 134.78 612.33 134.60 610.00 C134.42 607.67 134.00 605.17 135.40 604.00 Z" fill="none" stroke="#7a7a7a" stroke-width="0.6" />
<path d="M138.60 610.80 C139.20 610.20 140.97 609.87 141.80 610.20 C142.63 610.53 143.70 612.03 143.60 612.80 C143.50 613.57 142.10 614.63 141.20 614.80 C140.30 614.97 138.63 614.47 138.20 613.80 C137.77 613.13 138.00 611.40 138.60 610.80 Z" fill="none" stroke="#7a7a7a" stroke-width="0.6" />
<defs><linearGradient id="gg2b" gradientUnits="userSpaceOnUse" x1="129" y1="0" x2="166" y2="0"><stop offset="0" stop-color="#000"/><stop offset="0.3" stop-color="#111"/><stop offset="0.5" stop-color="#555"/><stop offset="0.72" stop-color="#bbb"/><stop offset="1" stop-color="#ffffff"/></linearGradient></defs>
<path d="M129.30 638.00 C129.47 636.25 129.55 633.57 131.00 632.00 C132.45 630.43 134.67 629.18 138.00 628.60 C141.33 628.02 147.50 628.30 151.00 628.50 C154.50 628.70 156.67 629.22 159.00 629.80 C161.33 630.38 163.83 630.80 165.00 632.00 C166.17 633.20 166.33 635.33 166.00 637.00 C165.67 638.67 164.67 640.70 163.00 642.00 C161.33 643.30 159.00 644.20 156.00 644.80 C153.00 645.40 148.67 645.50 145.00 645.60 C141.33 645.70 136.50 645.92 134.00 645.40 C131.50 644.88 130.78 643.73 130.00 642.50 C129.22 641.27 129.13 639.75 129.30 638.00 Z" fill="url(#gg2b)" />
<path d="M129.30 638.00 C129.47 636.25 129.55 633.57 131.00 632.00 C132.45 630.43 134.67 629.18 138.00 628.60 C141.33 628.02 147.50 628.30 151.00 628.50 C154.50 628.70 156.67 629.22 159.00 629.80 C161.33 630.38 163.83 630.80 165.00 632.00 C166.17 633.20 166.33 635.33 166.00 637.00 C165.67 638.67 164.67 640.70 163.00 642.00 C161.33 643.30 159.00 644.20 156.00 644.80 C153.00 645.40 148.67 645.50 145.00 645.60 C141.33 645.70 136.50 645.92 134.00 645.40 C131.50 644.88 130.78 643.73 130.00 642.50 C129.22 641.27 129.13 639.75 129.30 638.00 Z" fill="none" stroke="#111" stroke-width="0.55" />
<path d="M130.00 638.00 C130.15 636.39 130.23 633.92 131.56 632.48 C132.89 631.04 134.93 629.89 138.00 629.35 C141.07 628.82 146.74 629.08 149.96 629.26 C153.18 629.44 155.17 629.92 157.32 630.46 C159.47 630.99 161.77 631.38 162.84 632.48 C163.91 633.58 164.07 635.55 163.76 637.08 C163.45 638.61 162.53 640.48 161.00 641.68 C159.47 642.88 157.32 643.70 154.56 644.26 C151.80 644.81 147.81 644.90 144.44 644.99 C141.07 645.08 136.62 645.28 134.32 644.81 C132.02 644.33 131.36 643.27 130.64 642.14 C129.92 641.01 129.84 639.61 130.00 638.00 Z" fill="none" stroke="#111" stroke-width="0.55" />
<path d="M130.69 638.00 C130.83 636.53 130.90 634.28 132.12 632.96 C133.34 631.64 135.20 630.59 138.00 630.10 C140.80 629.61 145.98 629.85 148.92 630.02 C151.86 630.19 153.68 630.62 155.64 631.11 C157.60 631.60 159.70 631.95 160.68 632.96 C161.66 633.97 161.80 635.76 161.52 637.16 C161.24 638.56 160.40 640.27 159.00 641.36 C157.60 642.45 155.64 643.21 153.12 643.71 C150.60 644.22 146.96 644.30 143.88 644.38 C140.80 644.47 136.74 644.65 134.64 644.22 C132.54 643.78 131.94 642.82 131.28 641.78 C130.62 640.74 130.55 639.47 130.69 638.00 Z" fill="none" stroke="#111" stroke-width="0.55" />
<path d="M131.39 638.00 C131.51 636.67 131.58 634.63 132.68 633.44 C133.78 632.25 135.47 631.30 138.00 630.86 C140.53 630.41 145.22 630.63 147.88 630.78 C150.54 630.93 152.19 631.32 153.96 631.77 C155.73 632.21 157.63 632.53 158.52 633.44 C159.41 634.35 159.53 635.97 159.28 637.24 C159.03 638.51 158.27 640.05 157.00 641.04 C155.73 642.03 153.96 642.71 151.68 643.17 C149.40 643.62 146.11 643.70 143.32 643.78 C140.53 643.85 136.86 644.02 134.96 643.62 C133.06 643.23 132.52 642.36 131.92 641.42 C131.32 640.48 131.26 639.33 131.39 638.00 Z" fill="none" stroke="#111" stroke-width="0.55" />
<path d="M132.08 638.00 C132.20 636.81 132.25 634.99 133.24 633.92 C134.23 632.85 135.73 632.00 138.00 631.61 C140.27 631.21 144.46 631.40 146.84 631.54 C149.22 631.68 150.69 632.03 152.28 632.42 C153.87 632.82 155.57 633.10 156.36 633.92 C157.15 634.74 157.27 636.19 157.04 637.32 C156.81 638.45 156.13 639.84 155.00 640.72 C153.87 641.60 152.28 642.22 150.24 642.62 C148.20 643.03 145.25 643.10 142.76 643.17 C140.27 643.24 136.98 643.38 135.28 643.03 C133.58 642.68 133.09 641.90 132.56 641.06 C132.03 640.22 131.97 639.19 132.08 638.00 Z" fill="none" stroke="#111" stroke-width="0.55" />
<path d="M132.78 638.00 C132.88 636.95 132.93 635.34 133.80 634.40 C134.67 633.46 136.00 632.71 138.00 632.36 C140.00 632.01 143.70 632.18 145.80 632.30 C147.90 632.42 149.20 632.73 150.60 633.08 C152.00 633.43 153.50 633.68 154.20 634.40 C154.90 635.12 155.00 636.40 154.80 637.40 C154.60 638.40 154.00 639.62 153.00 640.40 C152.00 641.18 150.60 641.72 148.80 642.08 C147.00 642.44 144.40 642.50 142.20 642.56 C140.00 642.62 137.10 642.75 135.60 642.44 C134.10 642.13 133.67 641.44 133.20 640.70 C132.73 639.96 132.68 639.05 132.78 638.00 Z" fill="none" stroke="#111" stroke-width="0.55" />
<path d="M133.48 638.00 C133.56 637.09 133.61 635.69 134.36 634.88 C135.11 634.07 136.27 633.42 138.00 633.11 C139.73 632.81 142.94 632.96 144.76 633.06 C146.58 633.16 147.71 633.43 148.92 633.74 C150.13 634.04 151.43 634.26 152.04 634.88 C152.65 635.50 152.73 636.61 152.56 637.48 C152.39 638.35 151.87 639.40 151.00 640.08 C150.13 640.76 148.92 641.22 147.36 641.54 C145.80 641.85 143.55 641.90 141.64 641.95 C139.73 642.00 137.22 642.12 135.92 641.85 C134.62 641.58 134.25 640.98 133.84 640.34 C133.43 639.70 133.39 638.91 133.48 638.00 Z" fill="none" stroke="#111" stroke-width="0.55" />
<defs><linearGradient id="gg2c" gradientUnits="userSpaceOnUse" x1="0" y1="600" x2="0" y2="640"><stop offset="0" stop-color="#000"/><stop offset="0.25" stop-color="#333"/><stop offset="0.45" stop-color="#aaa"/><stop offset="0.6" stop-color="#ffffff"/><stop offset="1" stop-color="#ffffff"/></linearGradient></defs>
<path d="M165.60 600.00 C166.52 597.90 168.92 594.38 172.00 592.00 C175.08 589.62 181.98 585.70 184.10 585.70 C186.22 585.70 184.63 589.78 184.70 592.00 C184.77 594.22 184.92 595.47 184.50 599.00 C184.08 602.53 182.75 608.78 182.20 613.20 C181.65 617.62 181.28 621.72 181.20 625.50 C181.12 629.28 182.02 633.22 181.70 635.90 C181.38 638.58 181.03 640.42 179.30 641.60 C177.57 642.78 173.60 643.18 171.30 643.00 C169.00 642.82 166.53 642.15 165.50 640.50 C164.47 638.85 164.35 634.85 165.10 633.10 C165.85 631.35 168.82 630.95 170.00 630.00 C171.18 629.05 171.83 630.20 172.20 627.40 C172.57 624.60 173.15 617.00 172.20 613.20 C171.25 609.40 167.60 606.80 166.50 604.60 C165.40 602.40 164.68 602.10 165.60 600.00 Z" fill="url(#gg2c)" />
<path d="M165.60 600.00 C166.52 597.90 168.92 594.38 172.00 592.00 C175.08 589.62 181.98 585.70 184.10 585.70 C186.22 585.70 184.63 589.78 184.70 592.00 C184.77 594.22 184.92 595.47 184.50 599.00 C184.08 602.53 182.75 608.78 182.20 613.20 C181.65 617.62 181.28 621.72 181.20 625.50 C181.12 629.28 182.02 633.22 181.70 635.90 C181.38 638.58 181.03 640.42 179.30 641.60 C177.57 642.78 173.60 643.18 171.30 643.00 C169.00 642.82 166.53 642.15 165.50 640.50 C164.47 638.85 164.35 634.85 165.10 633.10 C165.85 631.35 168.82 630.95 170.00 630.00 C171.18 629.05 171.83 630.20 172.20 627.40 C172.57 624.60 173.15 617.00 172.20 613.20 C171.25 609.40 167.60 606.80 166.50 604.60 C165.40 602.40 164.68 602.10 165.60 600.00 Z" fill="none" stroke="#111" stroke-width="0.6" />
<path d="M166.43 601.12 C167.29 599.17 169.52 595.90 172.38 593.68 C175.25 591.46 181.67 587.82 183.64 587.82 C185.61 587.82 184.13 591.62 184.20 593.68 C184.26 595.74 184.40 596.90 184.01 600.19 C183.62 603.48 182.38 609.29 181.87 613.40 C181.36 617.50 181.02 621.32 180.94 624.84 C180.86 628.35 181.70 632.01 181.41 634.51 C181.11 637.00 180.79 638.71 179.17 639.81 C177.56 640.91 173.87 641.28 171.73 641.11 C169.59 640.94 167.30 640.32 166.34 638.78 C165.38 637.25 165.27 633.53 165.97 631.90 C166.67 630.28 169.42 629.90 170.53 629.02 C171.63 628.14 172.23 629.21 172.57 626.60 C172.91 624.00 173.45 616.93 172.57 613.40 C171.69 609.86 168.29 607.44 167.27 605.40 C166.25 603.35 165.58 603.07 166.43 601.12 Z" fill="none" stroke="#111" stroke-width="0.6" />
<path d="M167.27 602.24 C168.05 600.43 170.12 597.41 172.77 595.36 C175.42 593.31 181.36 589.94 183.18 589.94 C185.00 589.94 183.63 593.45 183.69 595.36 C183.75 597.27 183.88 598.34 183.52 601.38 C183.16 604.42 182.02 609.79 181.54 613.59 C181.07 617.39 180.75 620.92 180.68 624.17 C180.61 627.42 181.38 630.81 181.11 633.11 C180.84 635.42 180.54 637.00 179.05 638.02 C177.56 639.03 174.15 639.38 172.17 639.22 C170.19 639.06 168.07 638.49 167.18 637.07 C166.29 635.65 166.19 632.21 166.84 630.71 C167.48 629.20 170.03 628.86 171.05 628.04 C172.07 627.22 172.63 628.21 172.94 625.80 C173.26 623.40 173.76 616.86 172.94 613.59 C172.12 610.32 168.99 608.09 168.04 606.20 C167.09 604.30 166.48 604.05 167.27 602.24 Z" fill="none" stroke="#111" stroke-width="0.6" />
<path d="M168.10 603.36 C168.82 601.70 170.72 598.92 173.16 597.04 C175.59 595.16 181.04 592.06 182.71 592.06 C184.39 592.06 183.14 595.29 183.19 597.04 C183.24 598.79 183.36 599.78 183.03 602.57 C182.70 605.36 181.65 610.30 181.21 613.79 C180.78 617.28 180.49 620.52 180.42 623.50 C180.36 626.49 181.07 629.60 180.82 631.72 C180.57 633.84 180.29 635.29 178.92 636.22 C177.55 637.16 174.42 637.47 172.60 637.33 C170.78 637.19 168.84 636.66 168.02 635.36 C167.20 634.05 167.11 630.89 167.70 629.51 C168.30 628.13 170.64 627.81 171.57 627.06 C172.51 626.31 173.02 627.22 173.31 625.01 C173.60 622.79 174.06 616.79 173.31 613.79 C172.56 610.79 169.68 608.73 168.81 606.99 C167.94 605.26 167.37 605.02 168.10 603.36 Z" fill="none" stroke="#111" stroke-width="0.6" />
<path d="M168.93 604.48 C169.59 602.97 171.32 600.44 173.54 598.72 C175.76 597.00 180.73 594.18 182.25 594.18 C183.78 594.18 182.64 597.12 182.68 598.72 C182.73 600.32 182.84 601.22 182.54 603.76 C182.24 606.30 181.28 610.80 180.88 613.98 C180.49 617.16 180.22 620.12 180.16 622.84 C180.10 625.56 180.75 628.40 180.52 630.33 C180.30 632.26 180.04 633.58 178.80 634.43 C177.55 635.28 174.69 635.57 173.04 635.44 C171.38 635.31 169.60 634.83 168.86 633.64 C168.12 632.45 168.03 629.57 168.57 628.31 C169.11 627.05 171.25 626.76 172.10 626.08 C172.95 625.40 173.42 626.22 173.68 624.21 C173.95 622.19 174.37 616.72 173.68 613.98 C173.00 611.25 170.37 609.38 169.58 607.79 C168.79 606.21 168.27 605.99 168.93 604.48 Z" fill="none" stroke="#111" stroke-width="0.6" />
<path d="M169.76 605.60 C170.36 604.24 171.92 601.95 173.93 600.40 C175.93 598.85 180.41 596.31 181.79 596.31 C183.17 596.31 182.14 598.96 182.18 600.40 C182.22 601.84 182.32 602.65 182.05 604.95 C181.78 607.25 180.91 611.31 180.56 614.18 C180.20 617.05 179.96 619.72 179.91 622.17 C179.85 624.63 180.44 627.19 180.23 628.93 C180.02 630.68 179.80 631.87 178.67 632.64 C177.54 633.41 174.97 633.67 173.47 633.55 C171.97 633.43 170.37 633.00 169.70 631.92 C169.03 630.85 168.95 628.25 169.44 627.12 C169.93 625.98 171.86 625.72 172.62 625.10 C173.39 624.48 173.82 625.23 174.06 623.41 C174.29 621.59 174.67 616.65 174.06 614.18 C173.44 611.71 171.06 610.02 170.35 608.59 C169.63 607.16 169.17 606.97 169.76 605.60 Z" fill="none" stroke="#111" stroke-width="0.6" />
<path d="M170.60 606.72 C171.13 605.50 172.52 603.46 174.31 602.08 C176.10 600.70 180.10 598.43 181.33 598.43 C182.56 598.43 181.64 600.79 181.68 602.08 C181.71 603.37 181.80 604.09 181.56 606.14 C181.32 608.19 180.55 611.81 180.23 614.38 C179.91 616.94 179.69 619.32 179.65 621.51 C179.60 623.70 180.12 625.99 179.94 627.54 C179.75 629.10 179.55 630.16 178.54 630.85 C177.54 631.53 175.24 631.77 173.90 631.66 C172.57 631.55 171.14 631.17 170.54 630.21 C169.94 629.25 169.87 626.93 170.31 625.92 C170.74 624.90 172.46 624.67 173.15 624.12 C173.84 623.57 174.21 624.24 174.43 622.61 C174.64 620.99 174.98 616.58 174.43 614.38 C173.88 612.17 171.76 610.66 171.12 609.39 C170.48 608.11 170.07 607.94 170.60 606.72 Z" fill="none" stroke="#111" stroke-width="0.6" />
<path d="M165.80 600.00 C166.63 597.92 168.95 594.33 172.00 592.00 C175.05 589.67 182.00 584.83 184.10 586.00 C186.20 587.17 184.73 595.00 184.60 599.00 C184.47 603.00 184.07 607.83 183.30 610.00 C182.53 612.17 181.13 612.42 180.00 612.00 C178.87 611.58 178.00 608.33 176.50 607.50 C175.00 606.67 172.58 607.50 171.00 607.00 C169.42 606.50 167.87 605.67 167.00 604.50 C166.13 603.33 164.97 602.08 165.80 600.00 Z" fill="#000" />
<circle cx="176" cy="636.9" r="2.6" fill="none" stroke="#1a1a1a" stroke-width="0.5"/>
<circle cx="176" cy="636.9" r="1.6" fill="none" stroke="#1a1a1a" stroke-width="0.5"/>
<line x1="133.2" y1="638" x2="148.4" y2="638" stroke="#fff" stroke-width="1.0" />
<circle cx="133.8" cy="638" r="1.2" fill="#fff"/>
<circle cx="176.5" cy="597.5" r="0.7" fill="#fff"/>
<defs><linearGradient id="gg3" gradientUnits="userSpaceOnUse" x1="0" y1="618" x2="0" y2="631"><stop offset="0" stop-color="#ffffff"/><stop offset="0.4" stop-color="#e0e0e0"/><stop offset="0.75" stop-color="#555"/><stop offset="1" stop-color="#000"/></linearGradient></defs>
<path d="M224.40 617.80 C224.90 617.80 225.48 618.63 226.00 619.50 C226.52 620.37 227.00 621.67 227.50 623.00 C228.00 624.33 228.50 626.00 229.00 627.50 C229.50 629.00 230.13 630.50 230.50 632.00 C230.87 633.50 231.28 635.17 231.20 636.50 C231.12 637.83 231.03 639.25 230.00 640.00 C228.97 640.75 226.67 640.87 225.00 641.00 C223.33 641.13 221.07 641.38 220.00 640.80 C218.93 640.22 218.73 638.97 218.60 637.50 C218.47 636.03 218.88 633.67 219.20 632.00 C219.52 630.33 220.07 629.00 220.50 627.50 C220.93 626.00 221.38 624.33 221.80 623.00 C222.22 621.67 222.57 620.37 223.00 619.50 C223.43 618.63 223.90 617.80 224.40 617.80 Z" fill="url(#gg3)" />
<path d="M224.40 617.80 C224.90 617.80 225.48 618.63 226.00 619.50 C226.52 620.37 227.00 621.67 227.50 623.00 C228.00 624.33 228.50 626.00 229.00 627.50 C229.50 629.00 230.13 630.50 230.50 632.00 C230.87 633.50 231.28 635.17 231.20 636.50 C231.12 637.83 231.03 639.25 230.00 640.00 C228.97 640.75 226.67 640.87 225.00 641.00 C223.33 641.13 221.07 641.38 220.00 640.80 C218.93 640.22 218.73 638.97 218.60 637.50 C218.47 636.03 218.88 633.67 219.20 632.00 C219.52 630.33 220.07 629.00 220.50 627.50 C220.93 626.00 221.38 624.33 221.80 623.00 C222.22 621.67 222.57 620.37 223.00 619.50 C223.43 618.63 223.90 617.80 224.40 617.80 Z" fill="none" stroke="#111" stroke-width="0.55" />
<path d="M224.45 619.71 C224.91 619.71 225.44 620.47 225.91 621.25 C226.38 622.04 226.82 623.23 227.28 624.44 C227.73 625.65 228.19 627.17 228.64 628.53 C229.09 629.90 229.67 631.26 230.00 632.63 C230.34 634.00 230.72 635.51 230.64 636.73 C230.57 637.94 230.49 639.23 229.55 639.91 C228.61 640.59 226.52 640.70 225.00 640.82 C223.48 640.94 221.42 641.17 220.45 640.64 C219.48 640.11 219.30 638.97 219.18 637.63 C219.05 636.30 219.43 634.15 219.72 632.63 C220.01 631.11 220.51 629.90 220.91 628.53 C221.30 627.17 221.71 625.65 222.09 624.44 C222.47 623.23 222.79 622.04 223.18 621.25 C223.57 620.47 224.00 619.71 224.45 619.71 Z" fill="none" stroke="#111" stroke-width="0.55" />
<path d="M224.51 621.62 C224.92 621.62 225.40 622.30 225.82 623.01 C226.24 623.72 226.64 624.79 227.05 625.88 C227.46 626.97 227.87 628.34 228.28 629.57 C228.69 630.80 229.21 632.03 229.51 633.26 C229.81 634.49 230.15 635.86 230.08 636.95 C230.02 638.04 229.95 639.21 229.10 639.82 C228.25 640.44 226.37 640.53 225.00 640.64 C223.63 640.75 221.77 640.95 220.90 640.48 C220.03 640.00 219.86 638.97 219.75 637.77 C219.64 636.57 219.98 634.63 220.24 633.26 C220.50 631.89 220.95 630.80 221.31 629.57 C221.67 628.34 222.03 626.97 222.38 625.88 C222.72 624.79 223.00 623.72 223.36 623.01 C223.72 622.30 224.10 621.62 224.51 621.62 Z" fill="none" stroke="#111" stroke-width="0.55" />
<path d="M224.56 623.52 C224.93 623.52 225.35 624.13 225.73 624.76 C226.11 625.40 226.46 626.35 226.82 627.32 C227.19 628.29 227.55 629.51 227.92 630.61 C228.28 631.70 228.75 632.79 229.01 633.89 C229.28 634.99 229.59 636.20 229.53 637.17 C229.47 638.15 229.40 639.18 228.65 639.73 C227.90 640.28 226.22 640.36 225.00 640.46 C223.78 640.56 222.13 640.74 221.35 640.31 C220.57 639.89 220.43 638.98 220.33 637.90 C220.23 636.83 220.53 635.11 220.77 633.89 C221.00 632.67 221.40 631.70 221.72 630.61 C222.03 629.51 222.36 628.29 222.66 627.32 C222.97 626.35 223.22 625.40 223.54 624.76 C223.86 624.13 224.20 623.52 224.56 623.52 Z" fill="none" stroke="#111" stroke-width="0.55" />
<path d="M224.62 625.43 C224.94 625.43 225.31 625.97 225.64 626.52 C225.97 627.07 226.28 627.91 226.60 628.76 C226.92 629.61 227.24 630.68 227.56 631.64 C227.88 632.60 228.29 633.56 228.52 634.52 C228.75 635.48 229.02 636.55 228.97 637.40 C228.91 638.25 228.86 639.16 228.20 639.64 C227.54 640.12 226.07 640.19 225.00 640.28 C223.93 640.37 222.48 640.53 221.80 640.15 C221.12 639.78 220.99 638.98 220.90 638.04 C220.82 637.10 221.09 635.59 221.29 634.52 C221.49 633.45 221.84 632.60 222.12 631.64 C222.40 630.68 222.69 629.61 222.95 628.76 C223.22 627.91 223.44 627.07 223.72 626.52 C224.00 625.97 224.30 625.43 224.62 625.43 Z" fill="none" stroke="#111" stroke-width="0.55" />
<path d="M318.50 607.00 C319.07 606.18 320.22 604.73 321.20 604.60 C322.18 604.47 323.80 605.38 324.40 606.20 C325.00 607.02 325.20 608.53 324.80 609.50 C324.40 610.47 322.80 611.42 322.00 612.00 C321.20 612.58 320.45 612.20 320.00 613.00 C319.55 613.80 319.60 616.22 319.30 616.80 C319.00 617.38 318.35 617.22 318.20 616.50 C318.05 615.78 318.47 613.67 318.40 612.50 C318.33 611.33 317.78 610.42 317.80 609.50 C317.82 608.58 317.93 607.82 318.50 607.00 Z" fill="none" stroke="#7a7a7a" stroke-width="0.6" />
<defs><linearGradient id="gg4b" gradientUnits="userSpaceOnUse" x1="309" y1="0" x2="346" y2="0"><stop offset="0" stop-color="#000"/><stop offset="0.25" stop-color="#111"/><stop offset="0.45" stop-color="#555"/><stop offset="0.7" stop-color="#bbb"/><stop offset="1" stop-color="#ffffff"/></linearGradient></defs>
<path d="M309.10 637.90 C309.35 635.98 309.68 632.90 311.00 631.00 C312.32 629.10 313.83 627.37 317.00 626.50 C320.17 625.63 326.50 625.72 330.00 625.80 C333.50 625.88 335.67 626.30 338.00 627.00 C340.33 627.70 342.67 628.50 344.00 630.00 C345.33 631.50 346.17 634.08 346.00 636.00 C345.83 637.92 345.00 640.00 343.00 641.50 C341.00 643.00 337.83 644.25 334.00 645.00 C330.17 645.75 323.67 645.92 320.00 646.00 C316.33 646.08 313.75 646.08 312.00 645.50 C310.25 644.92 309.98 643.77 309.50 642.50 C309.02 641.23 308.85 639.82 309.10 637.90 Z" fill="url(#gg4b)" />
<path d="M309.10 637.90 C309.35 635.98 309.68 632.90 311.00 631.00 C312.32 629.10 313.83 627.37 317.00 626.50 C320.17 625.63 326.50 625.72 330.00 625.80 C333.50 625.88 335.67 626.30 338.00 627.00 C340.33 627.70 342.67 628.50 344.00 630.00 C345.33 631.50 346.17 634.08 346.00 636.00 C345.83 637.92 345.00 640.00 343.00 641.50 C341.00 643.00 337.83 644.25 334.00 645.00 C330.17 645.75 323.67 645.92 320.00 646.00 C316.33 646.08 313.75 646.08 312.00 645.50 C310.25 644.92 309.98 643.77 309.50 642.50 C309.02 641.23 308.85 639.82 309.10 637.90 Z" fill="none" stroke="#111" stroke-width="0.55" />
<path d="M309.81 637.91 C310.04 636.14 310.35 633.31 311.56 631.56 C312.77 629.81 314.17 628.22 317.08 627.42 C319.99 626.62 325.82 626.70 329.04 626.78 C332.26 626.85 334.25 627.24 336.40 627.88 C338.55 628.52 340.69 629.26 341.92 630.64 C343.15 632.02 343.91 634.40 343.76 636.16 C343.61 637.92 342.84 639.84 341.00 641.22 C339.16 642.60 336.25 643.75 332.72 644.44 C329.19 645.13 323.21 645.28 319.84 645.36 C316.47 645.44 314.09 645.44 312.48 644.90 C310.87 644.36 310.62 643.31 310.18 642.14 C309.74 640.97 309.58 639.67 309.81 637.91 Z" fill="none" stroke="#111" stroke-width="0.55" />
<path d="M310.52 637.92 C310.73 636.31 311.01 633.72 312.12 632.12 C313.23 630.52 314.50 629.07 317.16 628.34 C319.82 627.61 325.14 627.68 328.08 627.75 C331.02 627.82 332.84 628.17 334.80 628.76 C336.76 629.35 338.72 630.02 339.84 631.28 C340.96 632.54 341.66 634.71 341.52 636.32 C341.38 637.93 340.68 639.68 339.00 640.94 C337.32 642.20 334.66 643.25 331.44 643.88 C328.22 644.51 322.76 644.65 319.68 644.72 C316.60 644.79 314.43 644.79 312.96 644.30 C311.49 643.81 311.27 642.84 310.86 641.78 C310.45 640.72 310.31 639.53 310.52 637.92 Z" fill="none" stroke="#111" stroke-width="0.55" />
<path d="M311.24 637.92 C311.43 636.47 311.68 634.12 312.68 632.68 C313.68 631.24 314.83 629.92 317.24 629.26 C319.65 628.60 324.46 628.66 327.12 628.73 C329.78 628.79 331.43 629.11 333.20 629.64 C334.97 630.17 336.75 630.78 337.76 631.92 C338.77 633.06 339.41 635.02 339.28 636.48 C339.15 637.94 338.52 639.52 337.00 640.66 C335.48 641.80 333.07 642.75 330.16 643.32 C327.25 643.89 322.31 644.02 319.52 644.08 C316.73 644.14 314.77 644.14 313.44 643.70 C312.11 643.26 311.91 642.38 311.54 641.42 C311.17 640.46 311.05 639.38 311.24 637.92 Z" fill="none" stroke="#111" stroke-width="0.55" />
<path d="M311.95 637.93 C312.12 636.63 312.34 634.53 313.24 633.24 C314.14 631.95 315.17 630.77 317.32 630.18 C319.47 629.59 323.78 629.65 326.16 629.70 C328.54 629.76 330.01 630.04 331.60 630.52 C333.19 631.00 334.77 631.54 335.68 632.56 C336.59 633.58 337.15 635.34 337.04 636.64 C336.93 637.94 336.36 639.36 335.00 640.38 C333.64 641.40 331.49 642.25 328.88 642.76 C326.27 643.27 321.85 643.38 319.36 643.44 C316.87 643.50 315.11 643.50 313.92 643.10 C312.73 642.70 312.55 641.92 312.22 641.06 C311.89 640.20 311.78 639.24 311.95 637.93 Z" fill="none" stroke="#111" stroke-width="0.55" />
<path d="M312.66 637.94 C312.81 636.79 313.01 634.94 313.80 633.80 C314.59 632.66 315.50 631.62 317.40 631.10 C319.30 630.58 323.10 630.63 325.20 630.68 C327.30 630.73 328.60 630.98 330.00 631.40 C331.40 631.82 332.80 632.30 333.60 633.20 C334.40 634.10 334.90 635.65 334.80 636.80 C334.70 637.95 334.20 639.20 333.00 640.10 C331.80 641.00 329.90 641.75 327.60 642.20 C325.30 642.65 321.40 642.75 319.20 642.80 C317.00 642.85 315.45 642.85 314.40 642.50 C313.35 642.15 313.19 641.46 312.90 640.70 C312.61 639.94 312.51 639.09 312.66 637.94 Z" fill="none" stroke="#111" stroke-width="0.55" />
<path d="M313.37 637.95 C313.50 636.95 313.68 635.35 314.36 634.36 C315.04 633.37 315.83 632.47 317.48 632.02 C319.13 631.57 322.42 631.61 324.24 631.66 C326.06 631.70 327.19 631.92 328.40 632.28 C329.61 632.64 330.83 633.06 331.52 633.84 C332.21 634.62 332.65 635.96 332.56 636.96 C332.47 637.96 332.04 639.04 331.00 639.82 C329.96 640.60 328.31 641.25 326.32 641.64 C324.33 642.03 320.95 642.12 319.04 642.16 C317.13 642.20 315.79 642.20 314.88 641.90 C313.97 641.60 313.83 641.00 313.58 640.34 C313.33 639.68 313.24 638.94 313.37 637.95 Z" fill="none" stroke="#111" stroke-width="0.55" />
<defs><linearGradient id="gg4c" gradientUnits="userSpaceOnUse" x1="0" y1="600" x2="0" y2="640"><stop offset="0" stop-color="#000"/><stop offset="0.25" stop-color="#333"/><stop offset="0.45" stop-color="#aaa"/><stop offset="0.6" stop-color="#ffffff"/><stop offset="1" stop-color="#ffffff"/></linearGradient></defs>
<path d="M344.00 602.90 C344.68 600.32 346.43 596.20 348.80 593.50 C351.17 590.80 355.73 588.05 358.20 586.70 C360.67 585.35 362.43 584.72 363.60 585.40 C364.77 586.08 365.43 586.77 365.20 590.80 C364.97 594.83 363.03 604.00 362.20 609.60 C361.37 615.20 360.65 619.92 360.20 624.40 C359.75 628.88 360.52 633.70 359.50 636.50 C358.48 639.30 356.57 640.42 354.10 641.20 C351.63 641.98 346.55 642.07 344.70 641.20 C342.85 640.33 342.77 637.57 343.00 636.00 C343.23 634.43 344.92 633.73 346.10 631.80 C347.28 629.87 349.55 627.20 350.10 624.40 C350.65 621.60 350.30 617.57 349.40 615.00 C348.50 612.43 345.60 611.02 344.70 609.00 C343.80 606.98 343.32 605.48 344.00 602.90 Z" fill="url(#gg4c)" />
<path d="M344.00 602.90 C344.68 600.32 346.43 596.20 348.80 593.50 C351.17 590.80 355.73 588.05 358.20 586.70 C360.67 585.35 362.43 584.72 363.60 585.40 C364.77 586.08 365.43 586.77 365.20 590.80 C364.97 594.83 363.03 604.00 362.20 609.60 C361.37 615.20 360.65 619.92 360.20 624.40 C359.75 628.88 360.52 633.70 359.50 636.50 C358.48 639.30 356.57 640.42 354.10 641.20 C351.63 641.98 346.55 642.07 344.70 641.20 C342.85 640.33 342.77 637.57 343.00 636.00 C343.23 634.43 344.92 633.73 346.10 631.80 C347.28 629.87 349.55 627.20 350.10 624.40 C350.65 621.60 350.30 617.57 349.40 615.00 C348.50 612.43 345.60 611.02 344.70 609.00 C343.80 606.98 343.32 605.48 344.00 602.90 Z" fill="none" stroke="#111" stroke-width="0.6" />
<path d="M344.84 603.89 C345.48 601.48 347.10 597.66 349.30 595.14 C351.51 592.63 355.75 590.08 358.05 588.82 C360.34 587.57 361.98 586.98 363.07 587.61 C364.15 588.25 364.77 588.88 364.56 592.63 C364.34 596.38 362.54 604.91 361.77 610.12 C360.99 615.33 360.32 619.71 359.91 623.88 C359.49 628.05 360.20 632.53 359.25 635.13 C358.31 637.74 356.53 638.78 354.23 639.51 C351.94 640.23 347.21 640.31 345.49 639.51 C343.77 638.70 343.69 636.13 343.91 634.67 C344.13 633.21 345.69 632.56 346.79 630.76 C347.89 628.97 350.00 626.49 350.51 623.88 C351.02 621.28 350.70 617.53 349.86 615.14 C349.02 612.75 346.33 611.44 345.49 609.56 C344.65 607.68 344.20 606.29 344.84 603.89 Z" fill="none" stroke="#111" stroke-width="0.6" />
<path d="M345.68 604.87 C346.27 602.65 347.77 599.11 349.81 596.79 C351.84 594.47 355.77 592.10 357.89 590.94 C360.01 589.78 361.53 589.24 362.54 589.82 C363.54 590.41 364.11 591.00 363.91 594.47 C363.71 597.94 362.05 605.82 361.33 610.64 C360.62 615.45 360.00 619.51 359.61 623.36 C359.22 627.22 359.88 631.36 359.01 633.77 C358.14 636.18 356.49 637.14 354.37 637.81 C352.24 638.49 347.87 638.56 346.28 637.81 C344.69 637.07 344.62 634.69 344.82 633.34 C345.02 631.99 346.47 631.39 347.49 629.73 C348.50 628.07 350.45 625.77 350.93 623.36 C351.40 620.96 351.10 617.49 350.32 615.28 C349.55 613.07 347.06 611.85 346.28 610.12 C345.51 608.39 345.09 607.10 345.68 604.87 Z" fill="none" stroke="#111" stroke-width="0.6" />
<path d="M346.52 605.86 C347.06 603.82 348.44 600.57 350.31 598.43 C352.18 596.30 355.79 594.13 357.74 593.06 C359.69 592.00 361.08 591.50 362.00 592.04 C362.93 592.58 363.45 593.12 363.27 596.30 C363.08 599.49 361.56 606.73 360.90 611.15 C360.24 615.58 359.67 619.30 359.32 622.85 C358.96 626.39 359.57 630.19 358.76 632.40 C357.96 634.62 356.45 635.50 354.50 636.12 C352.55 636.74 348.53 636.80 347.07 636.12 C345.61 635.43 345.55 633.25 345.73 632.01 C345.91 630.77 347.24 630.22 348.18 628.69 C349.11 627.16 350.90 625.06 351.34 622.85 C351.77 620.63 351.50 617.45 350.79 615.42 C350.07 613.39 347.78 612.27 347.07 610.68 C346.36 609.09 345.98 607.90 346.52 605.86 Z" fill="none" stroke="#111" stroke-width="0.6" />
<path d="M347.36 606.85 C347.85 604.99 349.11 602.02 350.82 600.08 C352.52 598.14 355.81 596.16 357.58 595.18 C359.36 594.21 360.63 593.76 361.47 594.25 C362.31 594.74 362.79 595.23 362.62 598.14 C362.46 601.04 361.06 607.64 360.46 611.67 C359.86 615.70 359.35 619.10 359.02 622.33 C358.70 625.56 359.25 629.02 358.52 631.04 C357.79 633.06 356.41 633.86 354.63 634.42 C352.86 634.99 349.20 635.05 347.86 634.42 C346.53 633.80 346.47 631.81 346.64 630.68 C346.81 629.55 348.02 629.05 348.87 627.66 C349.72 626.26 351.36 624.34 351.75 622.33 C352.15 620.31 351.90 617.41 351.25 615.56 C350.60 613.71 348.51 612.69 347.86 611.24 C347.22 609.79 346.87 608.71 347.36 606.85 Z" fill="none" stroke="#111" stroke-width="0.6" />
<path d="M348.20 607.84 C348.64 606.16 349.78 603.48 351.32 601.73 C352.86 599.97 355.83 598.18 357.43 597.31 C359.03 596.43 360.18 596.02 360.94 596.46 C361.70 596.90 362.13 597.35 361.98 599.97 C361.83 602.59 360.57 608.55 360.03 612.19 C359.49 615.83 359.02 618.90 358.73 621.81 C358.44 624.72 358.94 627.85 358.27 629.67 C357.61 631.50 356.37 632.22 354.76 632.73 C353.16 633.24 349.86 633.29 348.65 632.73 C347.45 632.17 347.40 630.37 347.55 629.35 C347.70 628.33 348.80 627.88 349.56 626.62 C350.33 625.36 351.81 623.63 352.17 621.81 C352.52 619.99 352.29 617.37 351.71 615.70 C351.12 614.03 349.24 613.11 348.65 611.80 C348.07 610.49 347.76 609.51 348.20 607.84 Z" fill="none" stroke="#111" stroke-width="0.6" />
<path d="M349.04 608.82 C349.44 607.32 350.45 604.94 351.82 603.37 C353.20 601.80 355.85 600.21 357.28 599.43 C358.71 598.64 359.73 598.28 360.41 598.67 C361.08 599.07 361.47 599.46 361.34 601.80 C361.20 604.14 360.08 609.46 359.60 612.71 C359.11 615.96 358.70 618.69 358.44 621.29 C358.17 623.89 358.62 626.69 358.03 628.31 C357.44 629.93 356.33 630.58 354.90 631.04 C353.47 631.49 350.52 631.54 349.45 631.04 C348.37 630.53 348.32 628.93 348.46 628.02 C348.60 627.11 349.57 626.71 350.26 625.58 C350.94 624.46 352.26 622.92 352.58 621.29 C352.90 619.67 352.69 617.33 352.17 615.84 C351.65 614.35 349.97 613.53 349.45 612.36 C348.92 611.19 348.64 610.32 349.04 608.82 Z" fill="none" stroke="#111" stroke-width="0.6" />
<path d="M344.20 603.00 C344.88 600.98 346.47 596.22 348.80 593.50 C351.13 590.78 355.63 587.95 358.20 586.70 C360.77 585.45 363.08 584.87 364.20 586.00 C365.32 587.13 365.12 590.00 364.90 593.50 C364.68 597.00 364.25 604.42 362.90 607.00 C361.55 609.58 358.93 609.00 356.80 609.00 C354.67 609.00 352.12 607.57 350.10 607.00 C348.08 606.43 345.68 606.27 344.70 605.60 C343.72 604.93 343.52 605.02 344.20 603.00 Z" fill="#000" />
<circle cx="353.5" cy="636.5" r="2.6" fill="none" stroke="#1a1a1a" stroke-width="0.5"/>
<circle cx="353.5" cy="636.5" r="1.6" fill="none" stroke="#1a1a1a" stroke-width="0.5"/>
<line x1="313" y1="638" x2="329" y2="638" stroke="#fff" stroke-width="1.0" />
<circle cx="313.6" cy="638" r="1.2" fill="#fff"/>
<circle cx="357" cy="597" r="0.7" fill="#fff"/>
<text x="386.6" y="570.4" font-size="8.6" fill="#231f20" stroke="#231f20" stroke-width="0.05" textLength="125.6" lengthAdjust="spacingAndGlyphs">CD4/CD8 cells in bone marrow</text>
<line x1="422.3" y1="578" x2="422.3" y2="644.2" stroke="#231f20" stroke-width="1.1" />
<line x1="419.90000000000003" y1="582.4" x2="422.3" y2="582.4" stroke="#231f20" stroke-width="0.9" />
<line x1="419.90000000000003" y1="594.7" x2="422.3" y2="594.7" stroke="#231f20" stroke-width="0.9" />
<line x1="419.90000000000003" y1="607.0" x2="422.3" y2="607.0" stroke="#231f20" stroke-width="0.9" />
<line x1="419.90000000000003" y1="619.6" x2="422.3" y2="619.6" stroke="#231f20" stroke-width="0.9" />
<line x1="419.90000000000003" y1="631.9" x2="422.3" y2="631.9" stroke="#231f20" stroke-width="0.9" />
<line x1="419.90000000000003" y1="644.2" x2="422.3" y2="644.2" stroke="#231f20" stroke-width="0.9" />
<text x="417.6" y="584.8" font-size="7.0" fill="#231f20" stroke="#231f20" stroke-width="0.05" text-anchor="end" textLength="25.4" lengthAdjust="spacingAndGlyphs"><tspan dy="-0.00">2.5×10</tspan><tspan dy="-2.90" font-size="4.60">7</tspan></text>
<text x="417.6" y="597.1" font-size="7.0" fill="#231f20" stroke="#231f20" stroke-width="0.05" text-anchor="end" textLength="20" lengthAdjust="spacingAndGlyphs"><tspan dy="-0.00">2×10</tspan><tspan dy="-2.90" font-size="4.60">7</tspan></text>
<text x="417.6" y="609.4" font-size="7.0" fill="#231f20" stroke="#231f20" stroke-width="0.05" text-anchor="end" textLength="25.4" lengthAdjust="spacingAndGlyphs"><tspan dy="-0.00">1.5×10</tspan><tspan dy="-2.90" font-size="4.60">7</tspan></text>
<text x="417.6" y="622.0" font-size="7.0" fill="#231f20" stroke="#231f20" stroke-width="0.05" text-anchor="end" textLength="19.2" lengthAdjust="spacingAndGlyphs"><tspan dy="-0.00">1×10</tspan><tspan dy="-2.90" font-size="4.60">7</tspan></text>
<text x="417.6" y="634.3" font-size="7.0" fill="#231f20" stroke="#231f20" stroke-width="0.05" text-anchor="end" textLength="19.2" lengthAdjust="spacingAndGlyphs"><tspan dy="-0.00">5×10</tspan><tspan dy="-2.90" font-size="4.60">6</tspan></text>
<text x="417.6" y="646.6" font-size="7.0" fill="#231f20" stroke="#231f20" stroke-width="0.05" text-anchor="end">0</text>
<text x="390" y="611.9" font-size="8.9" fill="#231f20" stroke="#231f20" stroke-width="0.05" text-anchor="middle" textLength="52.8" lengthAdjust="spacingAndGlyphs" transform="rotate(-90 390 611.9)">Absolute number</text>
<rect x="430.5" y="638.8" width="12.5" height="5.400000000000091" fill="#c4c4c6" />
<line x1="436.75" y1="638.0" x2="436.75" y2="639.3" stroke="#333" stroke-width="0.9" />
<line x1="433.25" y1="638.0" x2="440.25" y2="638.0" stroke="#333" stroke-width="0.9" />
<rect x="452.2" y="604" width="12.400000000000034" height="40.200000000000045" fill="#c8102e" />
<line x1="458.4" y1="597" x2="458.4" y2="604.5" stroke="#333" stroke-width="0.9" />
<line x1="454.5" y1="597" x2="462.29999999999995" y2="597" stroke="#333" stroke-width="0.9" />
<rect x="473.3" y="642.5" width="12.899999999999977" height="1.7000000000000455" fill="#1c5693" />
<line x1="479.75" y1="641.8" x2="479.75" y2="643.0" stroke="#333" stroke-width="0.9" />
<line x1="476.25" y1="641.8" x2="483.25" y2="641.8" stroke="#333" stroke-width="0.9" />
<rect x="494.9" y="591.9" width="12.600000000000023" height="52.30000000000007" fill="#3db54a" />
<line x1="501.2" y1="586.5" x2="501.2" y2="592.4" stroke="#333" stroke-width="0.9" />
<line x1="497.75" y1="586.5" x2="504.65" y2="586.5" stroke="#333" stroke-width="0.9" />
<line x1="422.3" y1="644.2" x2="511.7" y2="644.2" stroke="#231f20" stroke-width="1.1" />
<line x1="436.7" y1="644.2" x2="436.7" y2="646.6" stroke="#231f20" stroke-width="0.9" />
<line x1="458.4" y1="644.2" x2="458.4" y2="646.6" stroke="#231f20" stroke-width="0.9" />
<line x1="479.7" y1="644.2" x2="479.7" y2="646.6" stroke="#231f20" stroke-width="0.9" />
<line x1="501.2" y1="644.2" x2="501.2" y2="646.6" stroke="#231f20" stroke-width="0.9" />
<line x1="458.6" y1="593.4" x2="479.8" y2="593.4" stroke="#231f20" stroke-width="0.9" />
<circle cx="464.22" cy="589.8" r="1.05" fill="#231f20"/>
<circle cx="467.67" cy="589.8" r="1.05" fill="#231f20"/>
<circle cx="471.12" cy="589.8" r="1.05" fill="#231f20"/>
<circle cx="474.57" cy="589.8" r="1.05" fill="#231f20"/>
<line x1="479.8" y1="583.2" x2="501" y2="583.2" stroke="#231f20" stroke-width="0.9" />
<circle cx="485.02" cy="579.7" r="1.05" fill="#231f20"/>
<circle cx="488.47" cy="579.7" r="1.05" fill="#231f20"/>
<circle cx="491.92" cy="579.7" r="1.05" fill="#231f20"/>
<circle cx="495.38" cy="579.7" r="1.05" fill="#231f20"/>
<text x="438.8" y="652.8" font-size="7.6" fill="#231f20" stroke="#231f20" stroke-width="0.05" text-anchor="end" textLength="27.5" lengthAdjust="spacingAndGlyphs" transform="rotate(-45 438.8 652.8)">Controls</text>
<text x="459.2" y="653.8" font-size="7.6" fill="#c42a48" stroke="#c42a48" stroke-width="0.05" text-anchor="end" textLength="19.5" lengthAdjust="spacingAndGlyphs" transform="rotate(-45 459.2 653.8)"><tspan dy="-0.00">N1IC</tspan><tspan dy="-2.89" font-size="5.02">Δ/Δ</tspan></text>
<text x="482.2" y="653.6" font-size="7.6" fill="#2d5f91" stroke="#2d5f91" stroke-width="0.05" text-anchor="end" textLength="48" lengthAdjust="spacingAndGlyphs" transform="rotate(-45 482.2 653.6)"><tspan dy="-0.00">N1IC</tspan><tspan dy="-2.89" font-size="5.02">Δ/Δ</tspan><tspan dy="2.89"> Tcf7</tspan><tspan dy="-2.89" font-size="5.02">Δ/Δ</tspan></text>
<text x="503.3" y="653.6" font-size="7.6" fill="#5dbb63" stroke="#5dbb63" stroke-width="0.05" text-anchor="end" textLength="50" lengthAdjust="spacingAndGlyphs" transform="rotate(-45 503.3 653.6)"><tspan dy="-0.00">N1IC</tspan><tspan dy="-2.89" font-size="5.02">Δ/Δ</tspan><tspan dy="2.89"> β-cat</tspan><tspan dy="-2.89" font-size="5.02">Δ/Δ</tspan></text>
<rect x="0" y="0" width="520" height="1" fill="#000"/>
<rect x="0" y="695" width="520" height="1" fill="#000"/>
<rect x="0" y="0" width="1" height="696" fill="#000"/>
<rect x="519" y="0" width="1" height="696" fill="#000"/>
</svg>
</body></html>
